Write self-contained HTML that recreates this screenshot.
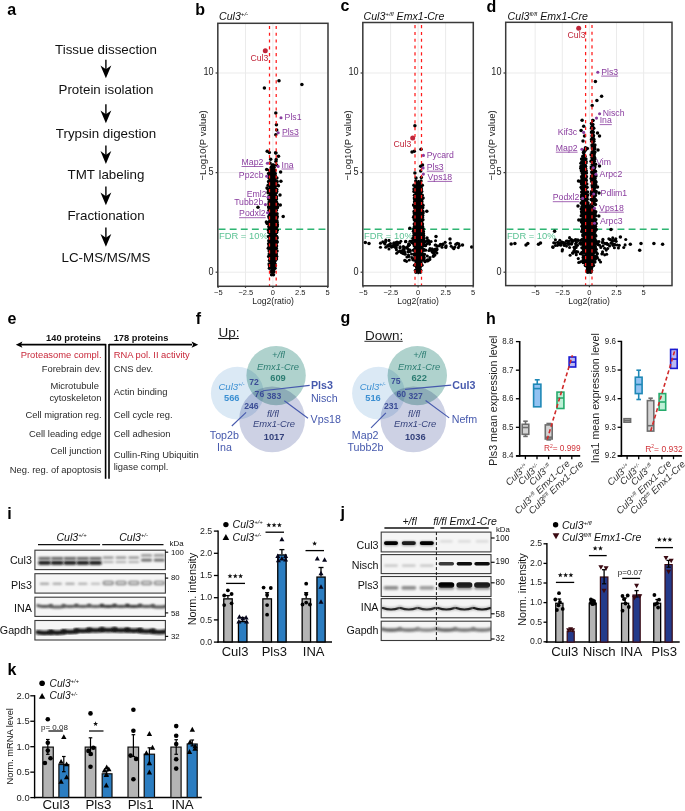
<!DOCTYPE html>
<html><head><meta charset="utf-8"><style>
html,body{margin:0;padding:0;background:#fff;}
svg{display:block;}
text{font-family:"Liberation Sans", sans-serif;}
</style></head><body>
<svg width="685" height="811" viewBox="0 0 685 811">
<rect width="685" height="811" fill="#fff"/>
<text x="7.20" y="14.60" font-size="16" font-weight="bold">a</text>
<text x="106.00" y="53.60" font-size="13.35" text-anchor="middle" fill="#111">Tissue dissection</text>
<text x="106.00" y="94.20" font-size="13.35" text-anchor="middle" fill="#111">Protein isolation</text>
<text x="106.00" y="137.90" font-size="13.35" text-anchor="middle" fill="#111">Trypsin digestion</text>
<text x="106.00" y="178.80" font-size="13.35" text-anchor="middle" fill="#111">TMT labeling</text>
<text x="106.00" y="220.00" font-size="13.35" text-anchor="middle" fill="#111">Fractionation</text>
<text x="106.00" y="261.50" font-size="13.35" text-anchor="middle" fill="#111">LC-MS/MS/MS</text>
<line x1="105.90" y1="59.80" x2="105.90" y2="70.30" stroke="#000" stroke-width="1.4" />
<polygon points="100.50,65.50 105.90,69.30 111.30,65.50 105.90,78.30" fill="#000" />
<line x1="105.90" y1="104.30" x2="105.90" y2="115.30" stroke="#000" stroke-width="1.4" />
<polygon points="100.50,110.50 105.90,114.30 111.30,110.50 105.90,123.30" fill="#000" />
<line x1="105.90" y1="145.40" x2="105.90" y2="155.90" stroke="#000" stroke-width="1.4" />
<polygon points="100.50,151.10 105.90,154.90 111.30,151.10 105.90,163.90" fill="#000" />
<line x1="105.90" y1="186.50" x2="105.90" y2="197.30" stroke="#000" stroke-width="1.4" />
<polygon points="100.50,192.50 105.90,196.30 111.30,192.50 105.90,205.30" fill="#000" />
<line x1="105.90" y1="227.40" x2="105.90" y2="238.80" stroke="#000" stroke-width="1.4" />
<polygon points="100.50,234.00 105.90,237.80 111.30,234.00 105.90,246.80" fill="#000" />
<rect x="217.80" y="23.30" width="110.20" height="263.00" fill="#fff" stroke="none" stroke-width="1" />
<line x1="218.10" y1="23.30" x2="218.10" y2="286.30" stroke="#ebebeb" stroke-width="1" />
<line x1="245.50" y1="23.30" x2="245.50" y2="286.30" stroke="#ebebeb" stroke-width="1" />
<line x1="272.90" y1="23.30" x2="272.90" y2="286.30" stroke="#ebebeb" stroke-width="1" />
<line x1="300.30" y1="23.30" x2="300.30" y2="286.30" stroke="#ebebeb" stroke-width="1" />
<line x1="327.70" y1="23.30" x2="327.70" y2="286.30" stroke="#ebebeb" stroke-width="1" />
<line x1="217.80" y1="272.20" x2="328.00" y2="272.20" stroke="#ebebeb" stroke-width="1" />
<line x1="217.80" y1="172.60" x2="328.00" y2="172.60" stroke="#ebebeb" stroke-width="1" />
<line x1="217.80" y1="73.00" x2="328.00" y2="73.00" stroke="#ebebeb" stroke-width="1" />
<line x1="218.60" y1="229.20" x2="328.00" y2="229.20" stroke="#2fb573" stroke-width="1.4" stroke-dasharray="6.9 4.2"/>
<text x="219.00" y="239.40" font-size="9.4" fill="#5cc294">FDR = 10%</text>
<polygon points="273.10,164.00 269.30,170.00 268.60,180.00 268.60,195.00 268.90,210.00 269.10,230.00 268.90,250.00 269.50,262.00 270.00,268.00 270.80,271.50 272.10,273.50 273.30,275.00 272.10,275.00 273.30,273.50 274.90,271.50 275.70,268.00 276.00,262.00 276.50,250.00 277.00,230.00 277.10,210.00 276.90,195.00 276.50,180.00 275.70,170.00 272.90,164.00" fill="#000" />
<circle cx="272.11" cy="164.97" r="1.75" fill="#000" />
<circle cx="273.43" cy="164.97" r="1.75" fill="#000" />
<circle cx="271.27" cy="167.22" r="1.75" fill="#000" />
<circle cx="274.05" cy="167.22" r="1.75" fill="#000" />
<circle cx="269.45" cy="170.14" r="1.75" fill="#000" />
<circle cx="274.87" cy="170.14" r="1.75" fill="#000" />
<circle cx="268.55" cy="173.58" r="1.75" fill="#000" />
<circle cx="275.22" cy="173.58" r="1.75" fill="#000" />
<circle cx="269.52" cy="176.06" r="1.75" fill="#000" />
<circle cx="275.47" cy="176.06" r="1.75" fill="#000" />
<circle cx="269.08" cy="178.06" r="1.75" fill="#000" />
<circle cx="276.87" cy="178.06" r="1.75" fill="#000" />
<circle cx="268.60" cy="181.44" r="1.75" fill="#000" />
<circle cx="277.10" cy="181.44" r="1.75" fill="#000" />
<circle cx="269.29" cy="182.62" r="1.75" fill="#000" />
<circle cx="276.10" cy="182.62" r="1.75" fill="#000" />
<circle cx="268.18" cy="185.36" r="1.75" fill="#000" />
<circle cx="276.21" cy="185.36" r="1.75" fill="#000" />
<circle cx="268.27" cy="189.54" r="1.75" fill="#000" />
<circle cx="276.73" cy="189.54" r="1.75" fill="#000" />
<circle cx="268.56" cy="191.60" r="1.75" fill="#000" />
<circle cx="276.73" cy="191.60" r="1.75" fill="#000" />
<circle cx="268.09" cy="192.66" r="1.75" fill="#000" />
<circle cx="276.25" cy="192.66" r="1.75" fill="#000" />
<circle cx="268.68" cy="196.70" r="1.75" fill="#000" />
<circle cx="276.49" cy="196.70" r="1.75" fill="#000" />
<circle cx="268.76" cy="198.96" r="1.75" fill="#000" />
<circle cx="276.50" cy="198.96" r="1.75" fill="#000" />
<circle cx="269.19" cy="201.99" r="1.75" fill="#000" />
<circle cx="276.46" cy="201.99" r="1.75" fill="#000" />
<circle cx="268.97" cy="203.94" r="1.75" fill="#000" />
<circle cx="277.43" cy="203.94" r="1.75" fill="#000" />
<circle cx="268.67" cy="206.82" r="1.75" fill="#000" />
<circle cx="277.63" cy="206.82" r="1.75" fill="#000" />
<circle cx="268.88" cy="207.80" r="1.75" fill="#000" />
<circle cx="277.31" cy="207.80" r="1.75" fill="#000" />
<circle cx="269.04" cy="210.34" r="1.75" fill="#000" />
<circle cx="276.26" cy="210.34" r="1.75" fill="#000" />
<circle cx="269.48" cy="213.71" r="1.75" fill="#000" />
<circle cx="277.04" cy="213.71" r="1.75" fill="#000" />
<circle cx="268.83" cy="216.39" r="1.75" fill="#000" />
<circle cx="277.21" cy="216.39" r="1.75" fill="#000" />
<circle cx="269.25" cy="217.99" r="1.75" fill="#000" />
<circle cx="276.84" cy="217.99" r="1.75" fill="#000" />
<circle cx="269.82" cy="220.76" r="1.75" fill="#000" />
<circle cx="276.86" cy="220.76" r="1.75" fill="#000" />
<circle cx="268.52" cy="222.59" r="1.75" fill="#000" />
<circle cx="277.19" cy="222.59" r="1.75" fill="#000" />
<circle cx="269.94" cy="224.77" r="1.75" fill="#000" />
<circle cx="277.36" cy="224.77" r="1.75" fill="#000" />
<circle cx="269.04" cy="226.19" r="1.75" fill="#000" />
<circle cx="277.12" cy="226.19" r="1.75" fill="#000" />
<circle cx="269.17" cy="227.83" r="1.75" fill="#000" />
<circle cx="276.36" cy="227.83" r="1.75" fill="#000" />
<circle cx="268.59" cy="230.26" r="1.75" fill="#000" />
<circle cx="277.25" cy="230.26" r="1.75" fill="#000" />
<circle cx="268.85" cy="232.51" r="1.75" fill="#000" />
<circle cx="276.62" cy="232.51" r="1.75" fill="#000" />
<circle cx="268.56" cy="236.38" r="1.75" fill="#000" />
<circle cx="276.61" cy="236.38" r="1.75" fill="#000" />
<circle cx="269.75" cy="237.89" r="1.75" fill="#000" />
<circle cx="277.13" cy="237.89" r="1.75" fill="#000" />
<circle cx="268.81" cy="240.81" r="1.75" fill="#000" />
<circle cx="276.45" cy="240.81" r="1.75" fill="#000" />
<circle cx="269.71" cy="241.91" r="1.75" fill="#000" />
<circle cx="277.24" cy="241.91" r="1.75" fill="#000" />
<circle cx="268.63" cy="243.67" r="1.75" fill="#000" />
<circle cx="276.11" cy="243.67" r="1.75" fill="#000" />
<circle cx="269.07" cy="246.07" r="1.75" fill="#000" />
<circle cx="276.58" cy="246.07" r="1.75" fill="#000" />
<circle cx="268.32" cy="248.36" r="1.75" fill="#000" />
<circle cx="276.27" cy="248.36" r="1.75" fill="#000" />
<circle cx="269.19" cy="250.89" r="1.75" fill="#000" />
<circle cx="276.99" cy="250.89" r="1.75" fill="#000" />
<circle cx="269.28" cy="254.06" r="1.75" fill="#000" />
<circle cx="276.36" cy="254.06" r="1.75" fill="#000" />
<circle cx="268.70" cy="256.42" r="1.75" fill="#000" />
<circle cx="276.68" cy="256.42" r="1.75" fill="#000" />
<circle cx="270.07" cy="259.07" r="1.75" fill="#000" />
<circle cx="276.42" cy="259.07" r="1.75" fill="#000" />
<circle cx="269.43" cy="260.54" r="1.75" fill="#000" />
<circle cx="275.32" cy="260.54" r="1.75" fill="#000" />
<circle cx="269.15" cy="263.90" r="1.75" fill="#000" />
<circle cx="275.11" cy="263.90" r="1.75" fill="#000" />
<circle cx="269.45" cy="265.63" r="1.75" fill="#000" />
<circle cx="275.43" cy="265.63" r="1.75" fill="#000" />
<circle cx="269.44" cy="268.18" r="1.75" fill="#000" />
<circle cx="274.98" cy="268.18" r="1.75" fill="#000" />
<circle cx="270.88" cy="271.70" r="1.75" fill="#000" />
<circle cx="273.88" cy="271.70" r="1.75" fill="#000" />
<circle cx="273.47" cy="274.81" r="1.75" fill="#000" />
<circle cx="271.57" cy="274.81" r="1.75" fill="#000" />
<circle cx="279.00" cy="80.70" r="1.75" fill="#000" />
<circle cx="264.40" cy="88.10" r="1.75" fill="#000" />
<circle cx="301.90" cy="84.40" r="1.75" fill="#000" />
<circle cx="275.80" cy="113.00" r="1.75" fill="#000" />
<circle cx="276.40" cy="124.80" r="1.75" fill="#000" />
<circle cx="276.70" cy="130.00" r="1.75" fill="#000" />
<circle cx="275.80" cy="134.70" r="1.75" fill="#000" />
<circle cx="267.20" cy="151.20" r="1.75" fill="#000" />
<circle cx="269.30" cy="152.60" r="1.75" fill="#000" />
<circle cx="275.90" cy="152.90" r="1.75" fill="#000" />
<circle cx="278.50" cy="156.30" r="1.75" fill="#000" />
<circle cx="270.70" cy="159.20" r="1.75" fill="#000" />
<circle cx="275.90" cy="161.60" r="1.75" fill="#000" />
<circle cx="280.60" cy="172.10" r="1.75" fill="#000" />
<circle cx="280.90" cy="181.30" r="1.75" fill="#000" />
<circle cx="278.40" cy="185.70" r="1.75" fill="#000" />
<circle cx="258.00" cy="207.20" r="1.75" fill="#000" />
<circle cx="283.20" cy="216.60" r="1.75" fill="#000" />
<circle cx="266.40" cy="222.00" r="1.75" fill="#000" />
<circle cx="267.20" cy="223.60" r="1.75" fill="#000" />
<circle cx="266.70" cy="169.50" r="1.75" fill="#000" />
<circle cx="275.60" cy="152.80" r="1.75" fill="#000" />
<circle cx="276.20" cy="159.60" r="1.75" fill="#000" />
<circle cx="270.00" cy="163.00" r="1.75" fill="#000" />
<circle cx="276.50" cy="165.00" r="1.75" fill="#000" />
<circle cx="267.00" cy="188.00" r="1.75" fill="#000" />
<circle cx="277.50" cy="184.90" r="1.75" fill="#000" />
<circle cx="280.00" cy="195.00" r="1.75" fill="#000" />
<circle cx="280.30" cy="205.00" r="1.75" fill="#000" />
<line x1="269.50" y1="25.90" x2="269.50" y2="286.30" stroke="#ff1a1a" stroke-width="1.25" stroke-dasharray="3.1 3.7"/>
<line x1="276.20" y1="25.90" x2="276.20" y2="286.30" stroke="#ff1a1a" stroke-width="1.25" stroke-dasharray="3.1 3.7"/>
<circle cx="265.30" cy="50.70" r="2.50" fill="#c0263a" />
<circle cx="281.00" cy="117.70" r="1.55" fill="#8a3d9f" />
<circle cx="278.20" cy="132.70" r="1.55" fill="#8a3d9f" />
<circle cx="267.40" cy="163.30" r="1.55" fill="#8a3d9f" />
<circle cx="278.10" cy="166.40" r="1.55" fill="#8a3d9f" />
<circle cx="266.70" cy="176.20" r="1.55" fill="#8a3d9f" />
<circle cx="268.20" cy="197.20" r="1.55" fill="#8a3d9f" />
<circle cx="265.40" cy="204.60" r="1.55" fill="#8a3d9f" />
<circle cx="267.60" cy="212.80" r="1.55" fill="#8a3d9f" />
<text x="250.50" y="61.20" font-size="8.7" fill="#c0263a">Cul3</text>
<text x="284.60" y="119.50" font-size="8.7" fill="#8a3d9f">Pls1</text>
<text x="281.90" y="134.70" font-size="8.7" fill="#8a3d9f">Pls3</text>
<line x1="281.90" y1="136.10" x2="298.82" y2="136.10" stroke="#8a3d9f" stroke-width="0.8" />
<text x="263.30" y="165.10" font-size="8.7" text-anchor="end" fill="#8a3d9f">Map2</text>
<line x1="241.54" y1="166.50" x2="263.30" y2="166.50" stroke="#8a3d9f" stroke-width="0.8" />
<text x="281.50" y="167.60" font-size="8.7" fill="#8a3d9f">Ina</text>
<line x1="281.50" y1="169.00" x2="293.59" y2="169.00" stroke="#8a3d9f" stroke-width="0.8" />
<text x="263.50" y="177.50" font-size="8.7" text-anchor="end" fill="#8a3d9f">Pp2cb</text>
<text x="266.60" y="196.60" font-size="8.7" text-anchor="end" fill="#8a3d9f">Eml2</text>
<text x="263.30" y="204.80" font-size="8.7" text-anchor="end" fill="#8a3d9f">Tubb2b</text>
<text x="265.70" y="216.30" font-size="8.7" text-anchor="end" fill="#8a3d9f">Podxl2</text>
<line x1="239.10" y1="217.70" x2="265.70" y2="217.70" stroke="#8a3d9f" stroke-width="0.8" />
<rect x="217.80" y="23.30" width="110.20" height="263.00" fill="none" stroke="#3a3a3a" stroke-width="1.5" />
<line x1="215.60" y1="272.20" x2="217.80" y2="272.20" stroke="#3a3a3a" stroke-width="1.2" />
<text x="213.60" y="274.50" font-size="10.4" text-anchor="end" fill="#222" textLength="5.07" lengthAdjust="spacingAndGlyphs">0</text>
<line x1="215.60" y1="172.60" x2="217.80" y2="172.60" stroke="#3a3a3a" stroke-width="1.2" />
<text x="213.60" y="174.90" font-size="10.4" text-anchor="end" fill="#222" textLength="5.07" lengthAdjust="spacingAndGlyphs">5</text>
<line x1="215.60" y1="73.00" x2="217.80" y2="73.00" stroke="#3a3a3a" stroke-width="1.2" />
<text x="213.60" y="75.30" font-size="10.4" text-anchor="end" fill="#222" textLength="10.13" lengthAdjust="spacingAndGlyphs">10</text>
<line x1="218.10" y1="286.30" x2="218.10" y2="287.90" stroke="#3a3a3a" stroke-width="1.2" />
<text x="218.40" y="295.40" font-size="7.5" text-anchor="middle" fill="#222">−5</text>
<line x1="245.50" y1="286.30" x2="245.50" y2="287.90" stroke="#3a3a3a" stroke-width="1.2" />
<text x="245.80" y="295.40" font-size="7.5" text-anchor="middle" fill="#222">−2.5</text>
<line x1="272.90" y1="286.30" x2="272.90" y2="287.90" stroke="#3a3a3a" stroke-width="1.2" />
<text x="272.90" y="295.40" font-size="7.5" text-anchor="middle" fill="#222">0</text>
<line x1="300.30" y1="286.30" x2="300.30" y2="287.90" stroke="#3a3a3a" stroke-width="1.2" />
<text x="300.30" y="295.40" font-size="7.5" text-anchor="middle" fill="#222">2.5</text>
<line x1="327.70" y1="286.30" x2="327.70" y2="287.90" stroke="#3a3a3a" stroke-width="1.2" />
<text x="327.70" y="295.40" font-size="7.5" text-anchor="middle" fill="#222">5</text>
<text x="273.00" y="304.40" font-size="8.6" text-anchor="middle" fill="#222">Log2(ratio)</text>
<text x="0.00" y="0.00" font-size="9.55" text-anchor="middle" fill="#222" transform="translate(206.30,145.4) rotate(-90)">−Log10(P value)</text>
<text x="219.00" y="19.70" font-size="10.6" font-style="italic" fill="#111"><tspan>Cul3</tspan><tspan font-size="6.15" dy="-4.03">+/-</tspan><tspan dy="4.03">​</tspan></text>
<rect x="362.80" y="22.50" width="110.50" height="263.30" fill="#fff" stroke="none" stroke-width="1" />
<line x1="363.10" y1="22.50" x2="363.10" y2="285.80" stroke="#ebebeb" stroke-width="1" />
<line x1="390.60" y1="22.50" x2="390.60" y2="285.80" stroke="#ebebeb" stroke-width="1" />
<line x1="418.10" y1="22.50" x2="418.10" y2="285.80" stroke="#ebebeb" stroke-width="1" />
<line x1="445.60" y1="22.50" x2="445.60" y2="285.80" stroke="#ebebeb" stroke-width="1" />
<line x1="473.10" y1="22.50" x2="473.10" y2="285.80" stroke="#ebebeb" stroke-width="1" />
<line x1="362.80" y1="272.20" x2="473.30" y2="272.20" stroke="#ebebeb" stroke-width="1" />
<line x1="362.80" y1="172.60" x2="473.30" y2="172.60" stroke="#ebebeb" stroke-width="1" />
<line x1="362.80" y1="73.00" x2="473.30" y2="73.00" stroke="#ebebeb" stroke-width="1" />
<line x1="363.60" y1="229.20" x2="473.30" y2="229.20" stroke="#2fb573" stroke-width="1.4" stroke-dasharray="6.9 4.2"/>
<text x="364.00" y="239.40" font-size="9.4" fill="#5cc294">FDR = 10%</text>
<polygon points="417.80,180.00 414.60,188.00 414.10,198.00 413.90,210.00 413.70,229.00 413.60,240.00 413.90,252.00 414.50,262.00 415.10,268.00 416.30,272.00 417.80,274.20 418.70,274.20 420.30,272.00 421.70,268.00 422.70,262.00 423.30,252.00 423.70,240.00 423.30,229.00 423.10,210.00 422.50,198.00 422.00,188.00 419.20,180.00" fill="#000" />
<circle cx="417.10" cy="182.67" r="1.75" fill="#000" />
<circle cx="420.29" cy="182.67" r="1.75" fill="#000" />
<circle cx="416.79" cy="184.70" r="1.75" fill="#000" />
<circle cx="419.98" cy="184.70" r="1.75" fill="#000" />
<circle cx="415.52" cy="186.97" r="1.75" fill="#000" />
<circle cx="421.13" cy="186.97" r="1.75" fill="#000" />
<circle cx="414.03" cy="189.00" r="1.75" fill="#000" />
<circle cx="421.44" cy="189.00" r="1.75" fill="#000" />
<circle cx="413.98" cy="191.44" r="1.75" fill="#000" />
<circle cx="421.65" cy="191.44" r="1.75" fill="#000" />
<circle cx="414.46" cy="195.26" r="1.75" fill="#000" />
<circle cx="422.22" cy="195.26" r="1.75" fill="#000" />
<circle cx="414.36" cy="197.92" r="1.75" fill="#000" />
<circle cx="423.09" cy="197.92" r="1.75" fill="#000" />
<circle cx="414.69" cy="199.53" r="1.75" fill="#000" />
<circle cx="421.79" cy="199.53" r="1.75" fill="#000" />
<circle cx="414.57" cy="201.83" r="1.75" fill="#000" />
<circle cx="421.86" cy="201.83" r="1.75" fill="#000" />
<circle cx="413.62" cy="205.03" r="1.75" fill="#000" />
<circle cx="422.66" cy="205.03" r="1.75" fill="#000" />
<circle cx="414.12" cy="205.61" r="1.75" fill="#000" />
<circle cx="422.90" cy="205.61" r="1.75" fill="#000" />
<circle cx="414.76" cy="207.74" r="1.75" fill="#000" />
<circle cx="422.72" cy="207.74" r="1.75" fill="#000" />
<circle cx="414.18" cy="211.25" r="1.75" fill="#000" />
<circle cx="422.76" cy="211.25" r="1.75" fill="#000" />
<circle cx="414.25" cy="213.05" r="1.75" fill="#000" />
<circle cx="423.07" cy="213.05" r="1.75" fill="#000" />
<circle cx="414.32" cy="215.42" r="1.75" fill="#000" />
<circle cx="422.70" cy="215.42" r="1.75" fill="#000" />
<circle cx="413.59" cy="217.16" r="1.75" fill="#000" />
<circle cx="422.34" cy="217.16" r="1.75" fill="#000" />
<circle cx="414.33" cy="219.87" r="1.75" fill="#000" />
<circle cx="422.89" cy="219.87" r="1.75" fill="#000" />
<circle cx="414.28" cy="224.01" r="1.75" fill="#000" />
<circle cx="422.42" cy="224.01" r="1.75" fill="#000" />
<circle cx="414.54" cy="226.60" r="1.75" fill="#000" />
<circle cx="422.48" cy="226.60" r="1.75" fill="#000" />
<circle cx="413.75" cy="228.78" r="1.75" fill="#000" />
<circle cx="423.11" cy="228.78" r="1.75" fill="#000" />
<circle cx="413.45" cy="231.14" r="1.75" fill="#000" />
<circle cx="423.26" cy="231.14" r="1.75" fill="#000" />
<circle cx="414.15" cy="233.26" r="1.75" fill="#000" />
<circle cx="423.26" cy="233.26" r="1.75" fill="#000" />
<circle cx="414.27" cy="235.55" r="1.75" fill="#000" />
<circle cx="423.54" cy="235.55" r="1.75" fill="#000" />
<circle cx="413.97" cy="235.85" r="1.75" fill="#000" />
<circle cx="423.33" cy="235.85" r="1.75" fill="#000" />
<circle cx="413.09" cy="238.25" r="1.75" fill="#000" />
<circle cx="423.53" cy="238.25" r="1.75" fill="#000" />
<circle cx="413.67" cy="240.30" r="1.75" fill="#000" />
<circle cx="423.79" cy="240.30" r="1.75" fill="#000" />
<circle cx="413.48" cy="243.49" r="1.75" fill="#000" />
<circle cx="423.56" cy="243.49" r="1.75" fill="#000" />
<circle cx="414.31" cy="245.81" r="1.75" fill="#000" />
<circle cx="423.40" cy="245.81" r="1.75" fill="#000" />
<circle cx="414.67" cy="249.59" r="1.75" fill="#000" />
<circle cx="423.58" cy="249.59" r="1.75" fill="#000" />
<circle cx="413.43" cy="250.17" r="1.75" fill="#000" />
<circle cx="423.80" cy="250.17" r="1.75" fill="#000" />
<circle cx="414.36" cy="253.96" r="1.75" fill="#000" />
<circle cx="422.82" cy="253.96" r="1.75" fill="#000" />
<circle cx="414.52" cy="255.18" r="1.75" fill="#000" />
<circle cx="423.06" cy="255.18" r="1.75" fill="#000" />
<circle cx="414.64" cy="258.48" r="1.75" fill="#000" />
<circle cx="423.14" cy="258.48" r="1.75" fill="#000" />
<circle cx="414.15" cy="259.97" r="1.75" fill="#000" />
<circle cx="423.39" cy="259.97" r="1.75" fill="#000" />
<circle cx="415.49" cy="264.75" r="1.75" fill="#000" />
<circle cx="421.40" cy="264.75" r="1.75" fill="#000" />
<circle cx="414.62" cy="265.18" r="1.75" fill="#000" />
<circle cx="421.91" cy="265.18" r="1.75" fill="#000" />
<circle cx="415.40" cy="270.49" r="1.75" fill="#000" />
<circle cx="420.74" cy="270.49" r="1.75" fill="#000" />
<circle cx="415.94" cy="272.16" r="1.75" fill="#000" />
<circle cx="420.30" cy="272.16" r="1.75" fill="#000" />
<circle cx="414.90" cy="125.70" r="1.75" fill="#000" />
<circle cx="412.00" cy="152.00" r="1.75" fill="#000" />
<circle cx="414.30" cy="151.20" r="1.75" fill="#000" />
<circle cx="421.00" cy="149.20" r="1.75" fill="#000" />
<circle cx="422.50" cy="165.00" r="1.75" fill="#000" />
<circle cx="420.70" cy="166.30" r="1.75" fill="#000" />
<circle cx="414.90" cy="173.10" r="1.75" fill="#000" />
<circle cx="420.70" cy="171.00" r="1.75" fill="#000" />
<circle cx="421.30" cy="177.40" r="1.75" fill="#000" />
<circle cx="415.80" cy="180.90" r="1.75" fill="#000" />
<circle cx="413.90" cy="185.20" r="1.75" fill="#000" />
<circle cx="422.30" cy="185.20" r="1.75" fill="#000" />
<circle cx="416.00" cy="178.00" r="1.75" fill="#000" />
<circle cx="421.00" cy="181.00" r="1.75" fill="#000" />
<circle cx="426.80" cy="211.30" r="1.75" fill="#000" />
<circle cx="409.80" cy="228.30" r="1.75" fill="#000" />
<circle cx="365.30" cy="242.50" r="1.75" fill="#000" />
<circle cx="369.00" cy="243.50" r="1.75" fill="#000" />
<circle cx="471.70" cy="247.00" r="1.75" fill="#000" />
<circle cx="462.50" cy="245.00" r="1.75" fill="#000" />
<circle cx="456.00" cy="244.20" r="1.75" fill="#000" />
<circle cx="404.90" cy="260.50" r="1.75" fill="#000" />
<circle cx="433.40" cy="256.30" r="1.75" fill="#000" />
<circle cx="450.00" cy="239.00" r="1.75" fill="#000" />
<circle cx="436.00" cy="236.50" r="1.75" fill="#000" />
<circle cx="427.00" cy="238.00" r="1.75" fill="#000" />
<circle cx="396.00" cy="247.59" r="1.55" fill="#000" />
<circle cx="394.65" cy="244.12" r="1.55" fill="#000" />
<circle cx="398.16" cy="242.50" r="1.55" fill="#000" />
<circle cx="405.59" cy="241.66" r="1.55" fill="#000" />
<circle cx="445.16" cy="242.33" r="1.55" fill="#000" />
<circle cx="442.89" cy="244.29" r="1.55" fill="#000" />
<circle cx="397.44" cy="244.41" r="1.55" fill="#000" />
<circle cx="408.74" cy="245.55" r="1.55" fill="#000" />
<circle cx="400.12" cy="246.92" r="1.55" fill="#000" />
<circle cx="436.74" cy="249.92" r="1.55" fill="#000" />
<circle cx="390.45" cy="243.51" r="1.55" fill="#000" />
<circle cx="446.06" cy="245.79" r="1.55" fill="#000" />
<circle cx="407.70" cy="246.57" r="1.55" fill="#000" />
<circle cx="382.77" cy="241.69" r="1.55" fill="#000" />
<circle cx="423.06" cy="244.85" r="1.55" fill="#000" />
<circle cx="434.92" cy="255.02" r="1.55" fill="#000" />
<circle cx="411.56" cy="253.96" r="1.55" fill="#000" />
<circle cx="428.93" cy="242.19" r="1.55" fill="#000" />
<circle cx="425.40" cy="245.65" r="1.55" fill="#000" />
<circle cx="411.86" cy="257.60" r="1.55" fill="#000" />
<circle cx="396.02" cy="247.91" r="1.55" fill="#000" />
<circle cx="408.73" cy="256.18" r="1.55" fill="#000" />
<circle cx="391.58" cy="247.09" r="1.55" fill="#000" />
<circle cx="406.58" cy="261.37" r="1.55" fill="#000" />
<circle cx="429.83" cy="259.50" r="1.55" fill="#000" />
<circle cx="402.67" cy="253.13" r="1.55" fill="#000" />
<circle cx="425.03" cy="261.77" r="1.55" fill="#000" />
<circle cx="406.91" cy="257.07" r="1.55" fill="#000" />
<circle cx="405.80" cy="241.40" r="1.55" fill="#000" />
<circle cx="394.88" cy="246.91" r="1.55" fill="#000" />
<circle cx="393.93" cy="243.55" r="1.55" fill="#000" />
<circle cx="435.41" cy="248.93" r="1.55" fill="#000" />
<circle cx="426.83" cy="243.64" r="1.55" fill="#000" />
<circle cx="454.89" cy="247.12" r="1.55" fill="#000" />
<circle cx="408.75" cy="256.35" r="1.55" fill="#000" />
<circle cx="427.14" cy="260.92" r="1.55" fill="#000" />
<circle cx="440.35" cy="244.35" r="1.55" fill="#000" />
<circle cx="387.67" cy="245.81" r="1.55" fill="#000" />
<circle cx="429.55" cy="244.11" r="1.55" fill="#000" />
<circle cx="424.38" cy="245.26" r="1.55" fill="#000" />
<circle cx="458.83" cy="243.90" r="1.55" fill="#000" />
<circle cx="427.32" cy="240.66" r="1.55" fill="#000" />
<circle cx="400.82" cy="241.21" r="1.55" fill="#000" />
<circle cx="403.53" cy="248.89" r="1.55" fill="#000" />
<circle cx="403.75" cy="253.68" r="1.55" fill="#000" />
<circle cx="443.06" cy="244.07" r="1.55" fill="#000" />
<circle cx="439.47" cy="245.69" r="1.55" fill="#000" />
<circle cx="392.02" cy="245.77" r="1.55" fill="#000" />
<circle cx="385.75" cy="241.60" r="1.55" fill="#000" />
<circle cx="396.64" cy="253.30" r="1.55" fill="#000" />
<circle cx="445.80" cy="246.67" r="1.55" fill="#000" />
<circle cx="389.00" cy="240.38" r="1.55" fill="#000" />
<circle cx="380.48" cy="247.26" r="1.55" fill="#000" />
<circle cx="432.06" cy="249.05" r="1.55" fill="#000" />
<circle cx="424.61" cy="254.18" r="1.55" fill="#000" />
<circle cx="432.25" cy="251.34" r="1.55" fill="#000" />
<circle cx="433.91" cy="252.89" r="1.55" fill="#000" />
<circle cx="384.16" cy="243.03" r="1.55" fill="#000" />
<circle cx="393.93" cy="243.65" r="1.55" fill="#000" />
<circle cx="435.91" cy="249.53" r="1.55" fill="#000" />
<circle cx="428.58" cy="240.55" r="1.55" fill="#000" />
<circle cx="389.46" cy="245.50" r="1.55" fill="#000" />
<circle cx="409.27" cy="259.95" r="1.55" fill="#000" />
<circle cx="433.96" cy="253.69" r="1.55" fill="#000" />
<circle cx="390.24" cy="246.08" r="1.55" fill="#000" />
<circle cx="432.12" cy="249.06" r="1.55" fill="#000" />
<circle cx="410.09" cy="251.07" r="1.55" fill="#000" />
<circle cx="458.37" cy="247.62" r="1.55" fill="#000" />
<circle cx="409.28" cy="250.08" r="1.55" fill="#000" />
<circle cx="408.12" cy="249.28" r="1.55" fill="#000" />
<circle cx="435.78" cy="245.04" r="1.55" fill="#000" />
<circle cx="411.53" cy="240.98" r="1.55" fill="#000" />
<circle cx="423.84" cy="255.68" r="1.55" fill="#000" />
<circle cx="429.96" cy="257.48" r="1.55" fill="#000" />
<circle cx="410.10" cy="250.17" r="1.55" fill="#000" />
<circle cx="409.98" cy="241.32" r="1.55" fill="#000" />
<circle cx="434.11" cy="249.76" r="1.55" fill="#000" />
<circle cx="453.85" cy="248.68" r="1.55" fill="#000" />
<circle cx="399.68" cy="242.98" r="1.55" fill="#000" />
<circle cx="399.79" cy="251.03" r="1.55" fill="#000" />
<circle cx="406.51" cy="247.80" r="1.55" fill="#000" />
<circle cx="436.79" cy="249.53" r="1.55" fill="#000" />
<circle cx="432.40" cy="252.19" r="1.55" fill="#000" />
<circle cx="424.76" cy="260.54" r="1.55" fill="#000" />
<circle cx="425.65" cy="250.14" r="1.55" fill="#000" />
<circle cx="395.57" cy="244.40" r="1.55" fill="#000" />
<circle cx="452.85" cy="247.71" r="1.55" fill="#000" />
<circle cx="427.34" cy="255.97" r="1.55" fill="#000" />
<circle cx="442.24" cy="244.42" r="1.55" fill="#000" />
<circle cx="427.54" cy="259.83" r="1.55" fill="#000" />
<circle cx="380.45" cy="243.14" r="1.55" fill="#000" />
<circle cx="431.06" cy="241.54" r="1.55" fill="#000" />
<circle cx="396.45" cy="249.86" r="1.55" fill="#000" />
<circle cx="435.55" cy="240.73" r="1.55" fill="#000" />
<circle cx="424.29" cy="257.66" r="1.55" fill="#000" />
<circle cx="404.62" cy="252.13" r="1.55" fill="#000" />
<circle cx="409.79" cy="251.51" r="1.55" fill="#000" />
<circle cx="457.32" cy="243.24" r="1.55" fill="#000" />
<circle cx="407.92" cy="251.73" r="1.55" fill="#000" />
<circle cx="385.87" cy="240.15" r="1.55" fill="#000" />
<circle cx="436.88" cy="252.97" r="1.55" fill="#000" />
<circle cx="430.03" cy="248.57" r="1.55" fill="#000" />
<circle cx="436.94" cy="248.91" r="1.55" fill="#000" />
<circle cx="397.11" cy="242.16" r="1.55" fill="#000" />
<circle cx="402.45" cy="252.33" r="1.55" fill="#000" />
<circle cx="435.68" cy="250.68" r="1.55" fill="#000" />
<circle cx="396.98" cy="245.24" r="1.55" fill="#000" />
<circle cx="428.91" cy="250.57" r="1.55" fill="#000" />
<circle cx="401.27" cy="252.55" r="1.55" fill="#000" />
<circle cx="435.15" cy="245.06" r="1.55" fill="#000" />
<circle cx="393.04" cy="246.38" r="1.55" fill="#000" />
<circle cx="423.48" cy="244.51" r="1.55" fill="#000" />
<circle cx="388.87" cy="244.75" r="1.55" fill="#000" />
<circle cx="403.97" cy="249.61" r="1.55" fill="#000" />
<circle cx="385.72" cy="247.27" r="1.55" fill="#000" />
<circle cx="408.55" cy="251.81" r="1.55" fill="#000" />
<circle cx="403.30" cy="246.51" r="1.55" fill="#000" />
<circle cx="409.51" cy="244.73" r="1.55" fill="#000" />
<circle cx="442.08" cy="247.22" r="1.55" fill="#000" />
<circle cx="459.39" cy="245.71" r="1.55" fill="#000" />
<circle cx="405.24" cy="254.16" r="1.55" fill="#000" />
<circle cx="425.74" cy="245.49" r="1.55" fill="#000" />
<circle cx="428.67" cy="242.41" r="1.55" fill="#000" />
<circle cx="433.29" cy="252.16" r="1.55" fill="#000" />
<circle cx="402.38" cy="250.59" r="1.55" fill="#000" />
<circle cx="408.46" cy="255.11" r="1.55" fill="#000" />
<circle cx="398.42" cy="251.69" r="1.55" fill="#000" />
<circle cx="388.96" cy="249.06" r="1.55" fill="#000" />
<circle cx="411.62" cy="242.60" r="1.55" fill="#000" />
<circle cx="396.38" cy="242.33" r="1.55" fill="#000" />
<circle cx="408.89" cy="244.72" r="1.55" fill="#000" />
<circle cx="424.92" cy="241.64" r="1.55" fill="#000" />
<circle cx="434.64" cy="251.79" r="1.55" fill="#000" />
<circle cx="400.00" cy="248.04" r="1.55" fill="#000" />
<circle cx="393.95" cy="245.02" r="1.55" fill="#000" />
<circle cx="387.92" cy="246.11" r="1.55" fill="#000" />
<circle cx="385.05" cy="244.09" r="1.55" fill="#000" />
<circle cx="408.61" cy="243.88" r="1.55" fill="#000" />
<circle cx="412.83" cy="259.68" r="1.55" fill="#000" />
<circle cx="445.86" cy="247.38" r="1.55" fill="#000" />
<circle cx="394.02" cy="242.81" r="1.55" fill="#000" />
<circle cx="428.64" cy="260.08" r="1.55" fill="#000" />
<circle cx="451.19" cy="246.23" r="1.55" fill="#000" />
<circle cx="450.31" cy="243.14" r="1.55" fill="#000" />
<circle cx="432.78" cy="251.15" r="1.55" fill="#000" />
<circle cx="404.41" cy="247.34" r="1.55" fill="#000" />
<circle cx="403.96" cy="249.89" r="1.55" fill="#000" />
<circle cx="427.99" cy="260.80" r="1.55" fill="#000" />
<circle cx="430.76" cy="250.21" r="1.55" fill="#000" />
<circle cx="437.29" cy="246.15" r="1.55" fill="#000" />
<line x1="415.00" y1="25.10" x2="415.00" y2="285.80" stroke="#ff1a1a" stroke-width="1.25" stroke-dasharray="3.1 3.7"/>
<line x1="421.50" y1="25.10" x2="421.50" y2="285.80" stroke="#ff1a1a" stroke-width="1.25" stroke-dasharray="3.1 3.7"/>
<circle cx="412.70" cy="138.00" r="2.50" fill="#c0263a" />
<circle cx="423.40" cy="155.40" r="1.55" fill="#8a3d9f" />
<circle cx="423.10" cy="167.90" r="1.55" fill="#8a3d9f" />
<circle cx="423.40" cy="174.10" r="1.55" fill="#8a3d9f" />
<text x="411.40" y="147.20" font-size="8.7" text-anchor="end" fill="#c0263a">Cul3</text>
<text x="426.80" y="157.50" font-size="8.7" fill="#8a3d9f">Pycard</text>
<text x="426.80" y="169.80" font-size="8.7" fill="#8a3d9f">Pls3</text>
<line x1="426.80" y1="171.20" x2="443.72" y2="171.20" stroke="#8a3d9f" stroke-width="0.8" />
<text x="427.50" y="180.00" font-size="8.7" fill="#8a3d9f">Vps18</text>
<line x1="427.50" y1="181.40" x2="452.17" y2="181.40" stroke="#8a3d9f" stroke-width="0.8" />
<rect x="362.80" y="22.50" width="110.50" height="263.30" fill="none" stroke="#3a3a3a" stroke-width="1.5" />
<line x1="360.60" y1="272.20" x2="362.80" y2="272.20" stroke="#3a3a3a" stroke-width="1.2" />
<text x="358.60" y="274.50" font-size="10.4" text-anchor="end" fill="#222" textLength="5.07" lengthAdjust="spacingAndGlyphs">0</text>
<line x1="360.60" y1="172.60" x2="362.80" y2="172.60" stroke="#3a3a3a" stroke-width="1.2" />
<text x="358.60" y="174.90" font-size="10.4" text-anchor="end" fill="#222" textLength="5.07" lengthAdjust="spacingAndGlyphs">5</text>
<line x1="360.60" y1="73.00" x2="362.80" y2="73.00" stroke="#3a3a3a" stroke-width="1.2" />
<text x="358.60" y="75.30" font-size="10.4" text-anchor="end" fill="#222" textLength="10.13" lengthAdjust="spacingAndGlyphs">10</text>
<line x1="363.10" y1="285.80" x2="363.10" y2="287.40" stroke="#3a3a3a" stroke-width="1.2" />
<text x="363.40" y="295.40" font-size="7.5" text-anchor="middle" fill="#222">−5</text>
<line x1="390.60" y1="285.80" x2="390.60" y2="287.40" stroke="#3a3a3a" stroke-width="1.2" />
<text x="390.90" y="295.40" font-size="7.5" text-anchor="middle" fill="#222">−2.5</text>
<line x1="418.10" y1="285.80" x2="418.10" y2="287.40" stroke="#3a3a3a" stroke-width="1.2" />
<text x="418.10" y="295.40" font-size="7.5" text-anchor="middle" fill="#222">0</text>
<line x1="445.60" y1="285.80" x2="445.60" y2="287.40" stroke="#3a3a3a" stroke-width="1.2" />
<text x="445.60" y="295.40" font-size="7.5" text-anchor="middle" fill="#222">2.5</text>
<line x1="473.10" y1="285.80" x2="473.10" y2="287.40" stroke="#3a3a3a" stroke-width="1.2" />
<text x="473.10" y="295.40" font-size="7.5" text-anchor="middle" fill="#222">5</text>
<text x="418.00" y="304.40" font-size="8.6" text-anchor="middle" fill="#222">Log2(ratio)</text>
<text x="0.00" y="0.00" font-size="9.55" text-anchor="middle" fill="#222" transform="translate(350.90,145.4) rotate(-90)">−Log10(P value)</text>
<text x="363.50" y="19.70" font-size="10.6" font-style="italic" fill="#111"><tspan>Cul3</tspan><tspan font-size="6.15" dy="-4.03">+/fl</tspan><tspan dy="4.03">​</tspan><tspan> Emx1-Cre</tspan></text>
<rect x="505.70" y="22.30" width="166.30" height="263.30" fill="#fff" stroke="none" stroke-width="1" />
<line x1="535.15" y1="22.30" x2="535.15" y2="285.60" stroke="#ebebeb" stroke-width="1" />
<line x1="562.27" y1="22.30" x2="562.27" y2="285.60" stroke="#ebebeb" stroke-width="1" />
<line x1="589.40" y1="22.30" x2="589.40" y2="285.60" stroke="#ebebeb" stroke-width="1" />
<line x1="616.52" y1="22.30" x2="616.52" y2="285.60" stroke="#ebebeb" stroke-width="1" />
<line x1="643.65" y1="22.30" x2="643.65" y2="285.60" stroke="#ebebeb" stroke-width="1" />
<line x1="505.70" y1="272.20" x2="672.00" y2="272.20" stroke="#ebebeb" stroke-width="1" />
<line x1="505.70" y1="172.60" x2="672.00" y2="172.60" stroke="#ebebeb" stroke-width="1" />
<line x1="505.70" y1="73.00" x2="672.00" y2="73.00" stroke="#ebebeb" stroke-width="1" />
<line x1="506.50" y1="229.20" x2="672.00" y2="229.20" stroke="#2fb573" stroke-width="1.4" stroke-dasharray="6.9 4.2"/>
<text x="506.90" y="239.40" font-size="9.4" fill="#5cc294">FDR = 10%</text>
<polygon points="592.60,119.50 591.90,130.00 591.70,150.00 591.60,170.00 591.60,190.00 591.30,205.00 595.70,205.00 595.70,190.00 595.20,170.00 594.70,150.00 593.70,130.00 592.50,119.50" fill="#000" />
<circle cx="592.87" cy="120.49" r="1.75" fill="#000" />
<circle cx="592.80" cy="120.49" r="1.75" fill="#000" />
<circle cx="592.13" cy="124.52" r="1.75" fill="#000" />
<circle cx="592.85" cy="124.52" r="1.75" fill="#000" />
<circle cx="591.84" cy="126.92" r="1.75" fill="#000" />
<circle cx="592.62" cy="126.92" r="1.75" fill="#000" />
<circle cx="591.55" cy="128.19" r="1.75" fill="#000" />
<circle cx="593.75" cy="128.19" r="1.75" fill="#000" />
<circle cx="591.75" cy="131.82" r="1.75" fill="#000" />
<circle cx="593.09" cy="131.82" r="1.75" fill="#000" />
<circle cx="591.64" cy="132.40" r="1.75" fill="#000" />
<circle cx="593.05" cy="132.40" r="1.75" fill="#000" />
<circle cx="592.11" cy="135.40" r="1.75" fill="#000" />
<circle cx="593.44" cy="135.40" r="1.75" fill="#000" />
<circle cx="592.28" cy="136.80" r="1.75" fill="#000" />
<circle cx="593.21" cy="136.80" r="1.75" fill="#000" />
<circle cx="591.64" cy="139.33" r="1.75" fill="#000" />
<circle cx="593.83" cy="139.33" r="1.75" fill="#000" />
<circle cx="591.82" cy="141.33" r="1.75" fill="#000" />
<circle cx="593.84" cy="141.33" r="1.75" fill="#000" />
<circle cx="591.98" cy="145.01" r="1.75" fill="#000" />
<circle cx="594.89" cy="145.01" r="1.75" fill="#000" />
<circle cx="592.27" cy="147.01" r="1.75" fill="#000" />
<circle cx="594.51" cy="147.01" r="1.75" fill="#000" />
<circle cx="592.34" cy="148.76" r="1.75" fill="#000" />
<circle cx="594.72" cy="148.76" r="1.75" fill="#000" />
<circle cx="592.18" cy="152.12" r="1.75" fill="#000" />
<circle cx="594.90" cy="152.12" r="1.75" fill="#000" />
<circle cx="592.30" cy="152.82" r="1.75" fill="#000" />
<circle cx="594.44" cy="152.82" r="1.75" fill="#000" />
<circle cx="591.18" cy="154.73" r="1.75" fill="#000" />
<circle cx="594.17" cy="154.73" r="1.75" fill="#000" />
<circle cx="592.08" cy="157.25" r="1.75" fill="#000" />
<circle cx="594.41" cy="157.25" r="1.75" fill="#000" />
<circle cx="592.20" cy="159.03" r="1.75" fill="#000" />
<circle cx="594.86" cy="159.03" r="1.75" fill="#000" />
<circle cx="591.12" cy="161.17" r="1.75" fill="#000" />
<circle cx="594.27" cy="161.17" r="1.75" fill="#000" />
<circle cx="592.32" cy="164.13" r="1.75" fill="#000" />
<circle cx="595.58" cy="164.13" r="1.75" fill="#000" />
<circle cx="591.36" cy="166.92" r="1.75" fill="#000" />
<circle cx="594.87" cy="166.92" r="1.75" fill="#000" />
<circle cx="591.50" cy="168.58" r="1.75" fill="#000" />
<circle cx="594.28" cy="168.58" r="1.75" fill="#000" />
<circle cx="592.24" cy="171.30" r="1.75" fill="#000" />
<circle cx="595.42" cy="171.30" r="1.75" fill="#000" />
<circle cx="591.80" cy="172.43" r="1.75" fill="#000" />
<circle cx="594.62" cy="172.43" r="1.75" fill="#000" />
<circle cx="591.67" cy="176.02" r="1.75" fill="#000" />
<circle cx="595.86" cy="176.02" r="1.75" fill="#000" />
<circle cx="591.18" cy="178.43" r="1.75" fill="#000" />
<circle cx="594.99" cy="178.43" r="1.75" fill="#000" />
<circle cx="591.69" cy="180.92" r="1.75" fill="#000" />
<circle cx="595.22" cy="180.92" r="1.75" fill="#000" />
<circle cx="592.15" cy="182.09" r="1.75" fill="#000" />
<circle cx="596.01" cy="182.09" r="1.75" fill="#000" />
<circle cx="592.45" cy="184.52" r="1.75" fill="#000" />
<circle cx="595.56" cy="184.52" r="1.75" fill="#000" />
<circle cx="592.22" cy="185.79" r="1.75" fill="#000" />
<circle cx="595.32" cy="185.79" r="1.75" fill="#000" />
<circle cx="592.47" cy="187.89" r="1.75" fill="#000" />
<circle cx="594.80" cy="187.89" r="1.75" fill="#000" />
<circle cx="591.69" cy="191.44" r="1.75" fill="#000" />
<circle cx="596.12" cy="191.44" r="1.75" fill="#000" />
<circle cx="591.25" cy="193.48" r="1.75" fill="#000" />
<circle cx="595.22" cy="193.48" r="1.75" fill="#000" />
<circle cx="591.73" cy="195.50" r="1.75" fill="#000" />
<circle cx="595.34" cy="195.50" r="1.75" fill="#000" />
<circle cx="591.17" cy="199.38" r="1.75" fill="#000" />
<circle cx="595.33" cy="199.38" r="1.75" fill="#000" />
<circle cx="592.26" cy="200.62" r="1.75" fill="#000" />
<circle cx="596.06" cy="200.62" r="1.75" fill="#000" />
<circle cx="591.63" cy="204.62" r="1.75" fill="#000" />
<circle cx="595.40" cy="204.62" r="1.75" fill="#000" />
<polygon points="584.80,150.00 581.80,157.00 581.30,170.00 581.30,190.00 581.30,203.00 581.30,210.00 581.60,220.00 582.10,229.00 583.10,240.00 584.10,252.00 584.90,262.00 585.80,268.00 586.80,271.50 588.30,273.50 590.20,273.50 591.90,271.50 593.30,268.00 594.30,262.00 594.90,252.00 595.70,240.00 595.70,229.00 595.70,220.00 595.50,210.00 588.20,203.00 586.70,190.00 586.00,170.00 585.70,157.00 584.20,150.00" fill="#000" />
<circle cx="585.30" cy="150.33" r="1.75" fill="#000" />
<circle cx="584.11" cy="150.33" r="1.75" fill="#000" />
<circle cx="583.42" cy="152.42" r="1.75" fill="#000" />
<circle cx="583.97" cy="152.42" r="1.75" fill="#000" />
<circle cx="582.83" cy="156.34" r="1.75" fill="#000" />
<circle cx="584.96" cy="156.34" r="1.75" fill="#000" />
<circle cx="581.61" cy="159.07" r="1.75" fill="#000" />
<circle cx="585.87" cy="159.07" r="1.75" fill="#000" />
<circle cx="581.95" cy="161.84" r="1.75" fill="#000" />
<circle cx="586.11" cy="161.84" r="1.75" fill="#000" />
<circle cx="580.98" cy="163.18" r="1.75" fill="#000" />
<circle cx="585.71" cy="163.18" r="1.75" fill="#000" />
<circle cx="581.12" cy="166.33" r="1.75" fill="#000" />
<circle cx="585.60" cy="166.33" r="1.75" fill="#000" />
<circle cx="580.81" cy="168.22" r="1.75" fill="#000" />
<circle cx="585.53" cy="168.22" r="1.75" fill="#000" />
<circle cx="581.41" cy="170.85" r="1.75" fill="#000" />
<circle cx="586.18" cy="170.85" r="1.75" fill="#000" />
<circle cx="582.17" cy="173.11" r="1.75" fill="#000" />
<circle cx="586.43" cy="173.11" r="1.75" fill="#000" />
<circle cx="581.74" cy="176.50" r="1.75" fill="#000" />
<circle cx="586.33" cy="176.50" r="1.75" fill="#000" />
<circle cx="581.90" cy="177.86" r="1.75" fill="#000" />
<circle cx="585.92" cy="177.86" r="1.75" fill="#000" />
<circle cx="581.72" cy="180.21" r="1.75" fill="#000" />
<circle cx="586.24" cy="180.21" r="1.75" fill="#000" />
<circle cx="580.82" cy="181.74" r="1.75" fill="#000" />
<circle cx="585.64" cy="181.74" r="1.75" fill="#000" />
<circle cx="581.57" cy="184.12" r="1.75" fill="#000" />
<circle cx="586.73" cy="184.12" r="1.75" fill="#000" />
<circle cx="581.16" cy="187.14" r="1.75" fill="#000" />
<circle cx="587.09" cy="187.14" r="1.75" fill="#000" />
<circle cx="581.77" cy="188.39" r="1.75" fill="#000" />
<circle cx="585.85" cy="188.39" r="1.75" fill="#000" />
<circle cx="581.70" cy="191.96" r="1.75" fill="#000" />
<circle cx="587.46" cy="191.96" r="1.75" fill="#000" />
<circle cx="581.73" cy="194.93" r="1.75" fill="#000" />
<circle cx="587.63" cy="194.93" r="1.75" fill="#000" />
<circle cx="581.62" cy="197.12" r="1.75" fill="#000" />
<circle cx="586.93" cy="197.12" r="1.75" fill="#000" />
<circle cx="582.04" cy="199.14" r="1.75" fill="#000" />
<circle cx="587.21" cy="199.14" r="1.75" fill="#000" />
<circle cx="581.52" cy="202.93" r="1.75" fill="#000" />
<circle cx="587.88" cy="202.93" r="1.75" fill="#000" />
<circle cx="581.29" cy="203.01" r="1.75" fill="#000" />
<circle cx="587.57" cy="203.01" r="1.75" fill="#000" />
<circle cx="582.05" cy="206.86" r="1.75" fill="#000" />
<circle cx="592.69" cy="206.86" r="1.75" fill="#000" />
<circle cx="581.28" cy="209.10" r="1.75" fill="#000" />
<circle cx="593.82" cy="209.10" r="1.75" fill="#000" />
<circle cx="581.58" cy="211.72" r="1.75" fill="#000" />
<circle cx="595.71" cy="211.72" r="1.75" fill="#000" />
<circle cx="582.13" cy="213.44" r="1.75" fill="#000" />
<circle cx="594.99" cy="213.44" r="1.75" fill="#000" />
<circle cx="581.27" cy="215.76" r="1.75" fill="#000" />
<circle cx="595.65" cy="215.76" r="1.75" fill="#000" />
<circle cx="581.24" cy="219.74" r="1.75" fill="#000" />
<circle cx="595.74" cy="219.74" r="1.75" fill="#000" />
<circle cx="581.43" cy="221.72" r="1.75" fill="#000" />
<circle cx="594.89" cy="221.72" r="1.75" fill="#000" />
<circle cx="582.44" cy="223.52" r="1.75" fill="#000" />
<circle cx="596.12" cy="223.52" r="1.75" fill="#000" />
<circle cx="581.97" cy="226.14" r="1.75" fill="#000" />
<circle cx="595.44" cy="226.14" r="1.75" fill="#000" />
<circle cx="582.80" cy="227.94" r="1.75" fill="#000" />
<circle cx="595.25" cy="227.94" r="1.75" fill="#000" />
<circle cx="582.46" cy="229.62" r="1.75" fill="#000" />
<circle cx="596.25" cy="229.62" r="1.75" fill="#000" />
<circle cx="581.78" cy="231.61" r="1.75" fill="#000" />
<circle cx="594.97" cy="231.61" r="1.75" fill="#000" />
<circle cx="582.92" cy="234.64" r="1.75" fill="#000" />
<circle cx="595.08" cy="234.64" r="1.75" fill="#000" />
<circle cx="583.03" cy="236.02" r="1.75" fill="#000" />
<circle cx="595.77" cy="236.02" r="1.75" fill="#000" />
<circle cx="583.53" cy="239.32" r="1.75" fill="#000" />
<circle cx="594.89" cy="239.32" r="1.75" fill="#000" />
<circle cx="583.85" cy="241.16" r="1.75" fill="#000" />
<circle cx="596.16" cy="241.16" r="1.75" fill="#000" />
<circle cx="584.04" cy="243.16" r="1.75" fill="#000" />
<circle cx="595.56" cy="243.16" r="1.75" fill="#000" />
<circle cx="583.43" cy="247.02" r="1.75" fill="#000" />
<circle cx="595.38" cy="247.02" r="1.75" fill="#000" />
<circle cx="583.98" cy="249.22" r="1.75" fill="#000" />
<circle cx="594.34" cy="249.22" r="1.75" fill="#000" />
<circle cx="583.57" cy="250.06" r="1.75" fill="#000" />
<circle cx="594.27" cy="250.06" r="1.75" fill="#000" />
<circle cx="584.45" cy="252.38" r="1.75" fill="#000" />
<circle cx="594.13" cy="252.38" r="1.75" fill="#000" />
<circle cx="584.96" cy="256.40" r="1.75" fill="#000" />
<circle cx="594.96" cy="256.40" r="1.75" fill="#000" />
<circle cx="585.13" cy="259.01" r="1.75" fill="#000" />
<circle cx="594.97" cy="259.01" r="1.75" fill="#000" />
<circle cx="585.23" cy="261.89" r="1.75" fill="#000" />
<circle cx="594.85" cy="261.89" r="1.75" fill="#000" />
<circle cx="584.50" cy="262.31" r="1.75" fill="#000" />
<circle cx="593.45" cy="262.31" r="1.75" fill="#000" />
<circle cx="585.40" cy="265.62" r="1.75" fill="#000" />
<circle cx="593.48" cy="265.62" r="1.75" fill="#000" />
<circle cx="586.99" cy="270.38" r="1.75" fill="#000" />
<circle cx="591.57" cy="270.38" r="1.75" fill="#000" />
<circle cx="587.62" cy="272.31" r="1.75" fill="#000" />
<circle cx="590.88" cy="272.31" r="1.75" fill="#000" />
<circle cx="595.40" cy="81.50" r="1.75" fill="#000" />
<circle cx="601.60" cy="96.30" r="1.75" fill="#000" />
<circle cx="596.90" cy="100.60" r="1.75" fill="#000" />
<circle cx="592.20" cy="105.50" r="1.75" fill="#000" />
<circle cx="582.10" cy="120.30" r="1.75" fill="#000" />
<circle cx="583.70" cy="126.20" r="1.75" fill="#000" />
<circle cx="581.10" cy="130.40" r="1.75" fill="#000" />
<circle cx="584.50" cy="136.00" r="1.75" fill="#000" />
<circle cx="583.00" cy="141.00" r="1.75" fill="#000" />
<circle cx="585.50" cy="147.80" r="1.75" fill="#000" />
<circle cx="591.50" cy="123.50" r="1.75" fill="#000" />
<circle cx="593.00" cy="128.00" r="1.75" fill="#000" />
<circle cx="597.50" cy="133.00" r="1.75" fill="#000" />
<circle cx="599.50" cy="136.00" r="1.75" fill="#000" />
<circle cx="587.30" cy="148.50" r="1.75" fill="#000" />
<circle cx="598.00" cy="150.00" r="1.75" fill="#000" />
<circle cx="599.50" cy="166.00" r="1.75" fill="#000" />
<circle cx="597.50" cy="187.00" r="1.75" fill="#000" />
<circle cx="599.00" cy="193.00" r="1.75" fill="#000" />
<circle cx="578.50" cy="181.00" r="1.75" fill="#000" />
<circle cx="578.00" cy="206.00" r="1.75" fill="#000" />
<circle cx="598.80" cy="216.00" r="1.75" fill="#000" />
<circle cx="578.80" cy="220.00" r="1.75" fill="#000" />
<circle cx="511.20" cy="244.00" r="1.75" fill="#000" />
<circle cx="514.90" cy="243.60" r="1.75" fill="#000" />
<circle cx="527.80" cy="243.60" r="1.75" fill="#000" />
<circle cx="526.00" cy="245.00" r="1.75" fill="#000" />
<circle cx="538.50" cy="244.30" r="1.75" fill="#000" />
<circle cx="540.50" cy="243.00" r="1.75" fill="#000" />
<circle cx="554.60" cy="231.20" r="1.75" fill="#000" />
<circle cx="620.40" cy="236.90" r="1.75" fill="#000" />
<circle cx="630.30" cy="244.30" r="1.75" fill="#000" />
<circle cx="641.00" cy="243.60" r="1.75" fill="#000" />
<circle cx="653.90" cy="243.60" r="1.75" fill="#000" />
<circle cx="662.60" cy="244.30" r="1.75" fill="#000" />
<circle cx="639.70" cy="250.30" r="1.75" fill="#000" />
<circle cx="611.00" cy="229.50" r="1.75" fill="#000" />
<circle cx="619.26" cy="245.34" r="1.55" fill="#000" />
<circle cx="569.56" cy="237.64" r="1.55" fill="#000" />
<circle cx="613.59" cy="244.64" r="1.55" fill="#000" />
<circle cx="577.76" cy="251.87" r="1.55" fill="#000" />
<circle cx="584.20" cy="243.89" r="1.55" fill="#000" />
<circle cx="597.49" cy="258.05" r="1.55" fill="#000" />
<circle cx="561.58" cy="242.86" r="1.55" fill="#000" />
<circle cx="584.48" cy="259.86" r="1.55" fill="#000" />
<circle cx="578.72" cy="262.57" r="1.55" fill="#000" />
<circle cx="600.58" cy="262.06" r="1.55" fill="#000" />
<circle cx="557.48" cy="245.33" r="1.55" fill="#000" />
<circle cx="600.83" cy="247.41" r="1.55" fill="#000" />
<circle cx="580.76" cy="240.19" r="1.55" fill="#000" />
<circle cx="562.46" cy="249.54" r="1.55" fill="#000" />
<circle cx="557.47" cy="242.43" r="1.55" fill="#000" />
<circle cx="606.37" cy="243.85" r="1.55" fill="#000" />
<circle cx="555.40" cy="245.51" r="1.55" fill="#000" />
<circle cx="594.62" cy="257.82" r="1.55" fill="#000" />
<circle cx="563.89" cy="244.40" r="1.55" fill="#000" />
<circle cx="574.06" cy="247.33" r="1.55" fill="#000" />
<circle cx="596.39" cy="256.86" r="1.55" fill="#000" />
<circle cx="574.57" cy="248.76" r="1.55" fill="#000" />
<circle cx="601.95" cy="253.98" r="1.55" fill="#000" />
<circle cx="575.58" cy="243.87" r="1.55" fill="#000" />
<circle cx="582.57" cy="242.23" r="1.55" fill="#000" />
<circle cx="583.33" cy="262.68" r="1.55" fill="#000" />
<circle cx="572.09" cy="242.55" r="1.55" fill="#000" />
<circle cx="571.44" cy="239.53" r="1.55" fill="#000" />
<circle cx="594.90" cy="250.64" r="1.55" fill="#000" />
<circle cx="596.86" cy="256.45" r="1.55" fill="#000" />
<circle cx="612.64" cy="243.65" r="1.55" fill="#000" />
<circle cx="596.36" cy="249.20" r="1.55" fill="#000" />
<circle cx="570.11" cy="255.23" r="1.55" fill="#000" />
<circle cx="568.53" cy="243.22" r="1.55" fill="#000" />
<circle cx="572.17" cy="241.04" r="1.55" fill="#000" />
<circle cx="612.47" cy="240.66" r="1.55" fill="#000" />
<circle cx="574.65" cy="240.08" r="1.55" fill="#000" />
<circle cx="602.55" cy="251.68" r="1.55" fill="#000" />
<circle cx="616.16" cy="241.34" r="1.55" fill="#000" />
<circle cx="555.42" cy="239.83" r="1.55" fill="#000" />
<circle cx="568.65" cy="244.09" r="1.55" fill="#000" />
<circle cx="610.31" cy="239.65" r="1.55" fill="#000" />
<circle cx="565.62" cy="243.58" r="1.55" fill="#000" />
<circle cx="623.75" cy="247.48" r="1.55" fill="#000" />
<circle cx="559.86" cy="243.23" r="1.55" fill="#000" />
<circle cx="615.79" cy="238.73" r="1.55" fill="#000" />
<circle cx="566.53" cy="246.09" r="1.55" fill="#000" />
<circle cx="606.25" cy="250.11" r="1.55" fill="#000" />
<circle cx="618.46" cy="247.88" r="1.55" fill="#000" />
<circle cx="614.49" cy="240.41" r="1.55" fill="#000" />
<circle cx="612.97" cy="245.34" r="1.55" fill="#000" />
<circle cx="594.80" cy="242.50" r="1.55" fill="#000" />
<circle cx="559.45" cy="244.36" r="1.55" fill="#000" />
<circle cx="595.07" cy="250.11" r="1.55" fill="#000" />
<circle cx="583.19" cy="241.86" r="1.55" fill="#000" />
<circle cx="579.74" cy="243.32" r="1.55" fill="#000" />
<circle cx="569.57" cy="247.48" r="1.55" fill="#000" />
<circle cx="561.93" cy="241.98" r="1.55" fill="#000" />
<circle cx="594.29" cy="248.49" r="1.55" fill="#000" />
<circle cx="571.92" cy="240.51" r="1.55" fill="#000" />
<circle cx="602.92" cy="239.20" r="1.55" fill="#000" />
<circle cx="596.12" cy="251.90" r="1.55" fill="#000" />
<circle cx="563.76" cy="242.57" r="1.55" fill="#000" />
<circle cx="625.76" cy="239.44" r="1.55" fill="#000" />
<circle cx="602.79" cy="240.96" r="1.55" fill="#000" />
<circle cx="609.59" cy="245.92" r="1.55" fill="#000" />
<circle cx="602.26" cy="253.47" r="1.55" fill="#000" />
<circle cx="581.79" cy="252.41" r="1.55" fill="#000" />
<circle cx="597.08" cy="253.96" r="1.55" fill="#000" />
<circle cx="602.98" cy="245.78" r="1.55" fill="#000" />
<circle cx="576.29" cy="254.78" r="1.55" fill="#000" />
<circle cx="610.99" cy="243.15" r="1.55" fill="#000" />
<circle cx="571.70" cy="243.91" r="1.55" fill="#000" />
<circle cx="606.77" cy="243.37" r="1.55" fill="#000" />
<circle cx="581.41" cy="253.77" r="1.55" fill="#000" />
<circle cx="576.24" cy="251.61" r="1.55" fill="#000" />
<circle cx="594.53" cy="251.59" r="1.55" fill="#000" />
<circle cx="599.48" cy="245.13" r="1.55" fill="#000" />
<circle cx="562.16" cy="250.91" r="1.55" fill="#000" />
<circle cx="559.81" cy="240.19" r="1.55" fill="#000" />
<circle cx="566.32" cy="241.00" r="1.55" fill="#000" />
<circle cx="576.11" cy="247.42" r="1.55" fill="#000" />
<circle cx="573.83" cy="251.00" r="1.55" fill="#000" />
<circle cx="594.97" cy="244.76" r="1.55" fill="#000" />
<circle cx="608.83" cy="238.84" r="1.55" fill="#000" />
<circle cx="604.58" cy="248.18" r="1.55" fill="#000" />
<circle cx="612.73" cy="237.91" r="1.55" fill="#000" />
<circle cx="572.65" cy="252.78" r="1.55" fill="#000" />
<circle cx="576.12" cy="252.41" r="1.55" fill="#000" />
<circle cx="604.74" cy="243.37" r="1.55" fill="#000" />
<circle cx="568.98" cy="244.25" r="1.55" fill="#000" />
<circle cx="568.08" cy="242.87" r="1.55" fill="#000" />
<circle cx="625.09" cy="244.91" r="1.55" fill="#000" />
<circle cx="578.28" cy="258.60" r="1.55" fill="#000" />
<circle cx="614.38" cy="247.71" r="1.55" fill="#000" />
<circle cx="595.21" cy="259.15" r="1.55" fill="#000" />
<circle cx="559.75" cy="244.27" r="1.55" fill="#000" />
<circle cx="617.27" cy="245.03" r="1.55" fill="#000" />
<circle cx="597.27" cy="253.50" r="1.55" fill="#000" />
<circle cx="580.32" cy="253.79" r="1.55" fill="#000" />
<circle cx="581.78" cy="247.85" r="1.55" fill="#000" />
<circle cx="583.10" cy="252.64" r="1.55" fill="#000" />
<circle cx="571.03" cy="243.83" r="1.55" fill="#000" />
<circle cx="606.69" cy="254.22" r="1.55" fill="#000" />
<circle cx="583.15" cy="255.61" r="1.55" fill="#000" />
<circle cx="560.70" cy="245.22" r="1.55" fill="#000" />
<circle cx="561.37" cy="243.33" r="1.55" fill="#000" />
<circle cx="581.09" cy="244.32" r="1.55" fill="#000" />
<circle cx="552.66" cy="246.88" r="1.55" fill="#000" />
<circle cx="554.70" cy="242.98" r="1.55" fill="#000" />
<circle cx="596.05" cy="241.64" r="1.55" fill="#000" />
<circle cx="599.31" cy="260.00" r="1.55" fill="#000" />
<circle cx="575.20" cy="251.85" r="1.55" fill="#000" />
<circle cx="553.70" cy="242.69" r="1.55" fill="#000" />
<circle cx="580.62" cy="261.83" r="1.55" fill="#000" />
<circle cx="598.94" cy="241.43" r="1.55" fill="#000" />
<circle cx="614.46" cy="244.21" r="1.55" fill="#000" />
<circle cx="602.35" cy="242.51" r="1.55" fill="#000" />
<circle cx="561.81" cy="242.31" r="1.55" fill="#000" />
<circle cx="572.88" cy="240.87" r="1.55" fill="#000" />
<circle cx="613.54" cy="244.53" r="1.55" fill="#000" />
<circle cx="607.72" cy="248.46" r="1.55" fill="#000" />
<circle cx="582.08" cy="239.41" r="1.55" fill="#000" />
<circle cx="583.56" cy="260.30" r="1.55" fill="#000" />
<circle cx="569.35" cy="240.99" r="1.55" fill="#000" />
<circle cx="612.10" cy="240.98" r="1.55" fill="#000" />
<circle cx="580.51" cy="242.48" r="1.55" fill="#000" />
<circle cx="572.89" cy="253.25" r="1.55" fill="#000" />
<circle cx="577.52" cy="245.37" r="1.55" fill="#000" />
<circle cx="576.44" cy="242.51" r="1.55" fill="#000" />
<circle cx="583.74" cy="261.16" r="1.55" fill="#000" />
<circle cx="614.95" cy="244.86" r="1.55" fill="#000" />
<circle cx="558.16" cy="242.61" r="1.55" fill="#000" />
<circle cx="597.57" cy="243.50" r="1.55" fill="#000" />
<circle cx="578.26" cy="240.51" r="1.55" fill="#000" />
<circle cx="575.60" cy="246.39" r="1.55" fill="#000" />
<circle cx="553.06" cy="247.37" r="1.55" fill="#000" />
<circle cx="597.57" cy="244.47" r="1.55" fill="#000" />
<circle cx="604.67" cy="254.83" r="1.55" fill="#000" />
<circle cx="583.02" cy="257.61" r="1.55" fill="#000" />
<circle cx="583.42" cy="251.98" r="1.55" fill="#000" />
<circle cx="607.78" cy="244.42" r="1.55" fill="#000" />
<circle cx="582.75" cy="260.53" r="1.55" fill="#000" />
<circle cx="577.86" cy="239.83" r="1.55" fill="#000" />
<circle cx="583.04" cy="244.83" r="1.55" fill="#000" />
<circle cx="575.80" cy="239.45" r="1.55" fill="#000" />
<circle cx="567.56" cy="240.98" r="1.55" fill="#000" />
<circle cx="575.53" cy="240.40" r="1.55" fill="#000" />
<circle cx="584.10" cy="251.77" r="1.55" fill="#000" />
<circle cx="564.29" cy="245.44" r="1.55" fill="#000" />
<line x1="585.60" y1="24.90" x2="585.60" y2="285.60" stroke="#ff1a1a" stroke-width="1.25" stroke-dasharray="3.1 3.7"/>
<line x1="592.00" y1="24.90" x2="592.00" y2="285.60" stroke="#ff1a1a" stroke-width="1.25" stroke-dasharray="3.1 3.7"/>
<circle cx="578.70" cy="28.30" r="2.50" fill="#c0263a" />
<circle cx="597.80" cy="72.30" r="1.55" fill="#8a3d9f" />
<circle cx="599.60" cy="113.80" r="1.55" fill="#8a3d9f" />
<circle cx="596.50" cy="118.10" r="1.55" fill="#8a3d9f" />
<circle cx="583.70" cy="132.40" r="1.55" fill="#8a3d9f" />
<circle cx="581.90" cy="149.30" r="1.55" fill="#8a3d9f" />
<circle cx="593.30" cy="167.70" r="1.55" fill="#8a3d9f" />
<circle cx="595.90" cy="174.30" r="1.55" fill="#8a3d9f" />
<circle cx="593.70" cy="194.00" r="1.55" fill="#8a3d9f" />
<circle cx="582.60" cy="198.40" r="1.55" fill="#8a3d9f" />
<circle cx="594.50" cy="208.30" r="1.55" fill="#8a3d9f" />
<circle cx="594.50" cy="223.20" r="1.55" fill="#8a3d9f" />
<text x="567.60" y="38.40" font-size="8.7" fill="#c0263a">Cul3</text>
<text x="601.20" y="74.70" font-size="8.7" fill="#8a3d9f">Pls3</text>
<line x1="601.20" y1="76.10" x2="618.12" y2="76.10" stroke="#8a3d9f" stroke-width="0.8" />
<text x="602.80" y="116.30" font-size="8.7" fill="#8a3d9f">Nisch</text>
<text x="599.70" y="123.20" font-size="8.7" fill="#8a3d9f">Ina</text>
<line x1="599.70" y1="124.60" x2="611.79" y2="124.60" stroke="#8a3d9f" stroke-width="0.8" />
<text x="577.20" y="134.90" font-size="8.7" text-anchor="end" fill="#8a3d9f">Kif3c</text>
<text x="577.60" y="150.80" font-size="8.7" text-anchor="end" fill="#8a3d9f">Map2</text>
<line x1="555.84" y1="152.20" x2="577.60" y2="152.20" stroke="#8a3d9f" stroke-width="0.8" />
<text x="596.20" y="164.80" font-size="8.7" fill="#8a3d9f">Vim</text>
<text x="599.60" y="176.80" font-size="8.7" fill="#8a3d9f">Arpc2</text>
<text x="600.60" y="195.90" font-size="8.7" fill="#8a3d9f">Pdlim1</text>
<text x="579.40" y="200.30" font-size="8.7" text-anchor="end" fill="#8a3d9f">Podxl2</text>
<line x1="552.80" y1="201.70" x2="579.40" y2="201.70" stroke="#8a3d9f" stroke-width="0.8" />
<text x="599.10" y="210.80" font-size="8.7" fill="#8a3d9f">Vps18</text>
<line x1="599.10" y1="212.20" x2="623.77" y2="212.20" stroke="#8a3d9f" stroke-width="0.8" />
<text x="599.90" y="224.40" font-size="8.7" fill="#8a3d9f">Arpc3</text>
<rect x="505.70" y="22.30" width="166.30" height="263.30" fill="none" stroke="#3a3a3a" stroke-width="1.5" />
<line x1="503.50" y1="272.20" x2="505.70" y2="272.20" stroke="#3a3a3a" stroke-width="1.2" />
<text x="501.50" y="274.50" font-size="10.4" text-anchor="end" fill="#222" textLength="5.07" lengthAdjust="spacingAndGlyphs">0</text>
<line x1="503.50" y1="172.60" x2="505.70" y2="172.60" stroke="#3a3a3a" stroke-width="1.2" />
<text x="501.50" y="174.90" font-size="10.4" text-anchor="end" fill="#222" textLength="5.07" lengthAdjust="spacingAndGlyphs">5</text>
<line x1="503.50" y1="73.00" x2="505.70" y2="73.00" stroke="#3a3a3a" stroke-width="1.2" />
<text x="501.50" y="75.30" font-size="10.4" text-anchor="end" fill="#222" textLength="10.13" lengthAdjust="spacingAndGlyphs">10</text>
<line x1="535.15" y1="285.60" x2="535.15" y2="287.20" stroke="#3a3a3a" stroke-width="1.2" />
<text x="535.45" y="295.40" font-size="7.5" text-anchor="middle" fill="#222">−5</text>
<line x1="562.27" y1="285.60" x2="562.27" y2="287.20" stroke="#3a3a3a" stroke-width="1.2" />
<text x="562.57" y="295.40" font-size="7.5" text-anchor="middle" fill="#222">−2.5</text>
<line x1="589.40" y1="285.60" x2="589.40" y2="287.20" stroke="#3a3a3a" stroke-width="1.2" />
<text x="589.40" y="295.40" font-size="7.5" text-anchor="middle" fill="#222">0</text>
<line x1="616.52" y1="285.60" x2="616.52" y2="287.20" stroke="#3a3a3a" stroke-width="1.2" />
<text x="616.52" y="295.40" font-size="7.5" text-anchor="middle" fill="#222">2.5</text>
<line x1="643.65" y1="285.60" x2="643.65" y2="287.20" stroke="#3a3a3a" stroke-width="1.2" />
<text x="643.65" y="295.40" font-size="7.5" text-anchor="middle" fill="#222">5</text>
<text x="589.00" y="304.40" font-size="8.6" text-anchor="middle" fill="#222">Log2(ratio)</text>
<text x="0.00" y="0.00" font-size="9.55" text-anchor="middle" fill="#222" transform="translate(494.90,145.4) rotate(-90)">−Log10(P value)</text>
<text x="507.60" y="19.70" font-size="10.6" font-style="italic" fill="#111"><tspan>Cul3</tspan><tspan font-size="6.15" dy="-4.03">fl/fl</tspan><tspan dy="4.03">​</tspan><tspan> Emx1-Cre</tspan></text>
<text x="195.30" y="14.50" font-size="16" font-weight="bold">b</text>
<text x="340.40" y="11.20" font-size="16" font-weight="bold">c</text>
<text x="486.60" y="11.70" font-size="16" font-weight="bold">d</text>
<text x="7.40" y="323.60" font-size="16" font-weight="bold">e</text>
<text x="100.90" y="341.00" font-size="9.3" text-anchor="end" font-weight="bold" fill="#111">140 proteins</text>
<text x="113.70" y="341.20" font-size="9.3" font-weight="bold" fill="#111">178 proteins</text>
<line x1="21.00" y1="344.70" x2="105.60" y2="344.70" stroke="#000" stroke-width="1.7" />
<polygon points="15.80,344.70 22.40,341.60 21.00,344.70 22.40,347.80" fill="#000" />
<line x1="109.00" y1="344.70" x2="192.00" y2="344.70" stroke="#000" stroke-width="1.7" />
<polygon points="198.20,344.70 191.60,341.60 193.00,344.70 191.60,347.80" fill="#000" />
<line x1="105.60" y1="343.90" x2="105.60" y2="478.80" stroke="#000" stroke-width="1.6" />
<line x1="109.00" y1="343.90" x2="109.00" y2="478.80" stroke="#000" stroke-width="1.6" />
<text x="101.50" y="358.20" font-size="9.4" text-anchor="end" fill="#c8283a" xml:space="preserve">Proteasome compl.</text>
<text x="101.50" y="371.90" font-size="9.4" text-anchor="end" fill="#2a2a2a" xml:space="preserve">Forebrain dev.</text>
<text x="101.50" y="388.70" font-size="9.4" text-anchor="end" fill="#2a2a2a" xml:space="preserve">Microtubule </text>
<text x="101.50" y="400.80" font-size="9.4" text-anchor="end" fill="#2a2a2a" xml:space="preserve">cytoskeleton</text>
<text x="101.50" y="417.60" font-size="9.4" text-anchor="end" fill="#2a2a2a" xml:space="preserve">Cell migration reg.</text>
<text x="101.50" y="436.80" font-size="9.4" text-anchor="end" fill="#2a2a2a" xml:space="preserve">Cell leading edge</text>
<text x="101.50" y="454.40" font-size="9.4" text-anchor="end" fill="#2a2a2a" xml:space="preserve">Cell junction</text>
<text x="101.50" y="472.70" font-size="9.4" text-anchor="end" fill="#2a2a2a" xml:space="preserve">Neg. reg. of apoptosis</text>
<text x="113.70" y="358.40" font-size="9.4" fill="#c8283a">RNA pol. II activity</text>
<text x="113.70" y="372.20" font-size="9.4" fill="#2a2a2a">CNS dev.</text>
<text x="113.70" y="394.50" font-size="9.4" fill="#2a2a2a">Actin binding</text>
<text x="113.70" y="417.60" font-size="9.4" fill="#2a2a2a">Cell cycle reg.</text>
<text x="113.70" y="436.80" font-size="9.4" fill="#2a2a2a">Cell adhesion</text>
<text x="113.70" y="458.00" font-size="9.4" fill="#2a2a2a">Cullin-Ring Ubiquitin</text>
<text x="113.70" y="470.40" font-size="9.4" fill="#2a2a2a">ligase compl.</text>
<text x="195.80" y="323.60" font-size="16" font-weight="bold">f</text>
<text x="340.40" y="323.40" font-size="16" font-weight="bold">g</text>
<text x="218.60" y="336.90" font-size="13.5" fill="#1a1a1a">Up:</text>
<line x1="218.10" y1="338.50" x2="238.90" y2="338.50" stroke="#1a1a1a" stroke-width="1.1" />
<text x="364.90" y="339.60" font-size="13.5" fill="#1a1a1a">Down:</text>
<line x1="364.40" y1="341.30" x2="402.70" y2="341.30" stroke="#555" stroke-width="1.2" />
<g style="isolation:isolate">
<circle cx="237.30" cy="393.2" r="26.4" fill="#dbe9f5" style="mix-blend-mode:multiply"/>
<circle cx="272.10" cy="419.3" r="32.9" fill="#cdd1e4" style="mix-blend-mode:multiply"/>
<circle cx="276.10" cy="375.6" r="29.7" fill="#afd2cd" style="mix-blend-mode:multiply"/>
</g>
<text x="231.40" y="389.60" font-size="9.6" text-anchor="middle" font-style="italic" fill="#3b8fd2"><tspan>Cul3</tspan><tspan font-size="5.20" dy="-3.60">+/-</tspan><tspan dy="3.60">​</tspan></text>
<text x="231.80" y="400.50" font-size="9.3" text-anchor="middle" font-weight="bold" fill="#3b8fd2">566</text>
<text x="278.50" y="358.20" font-size="9.4" text-anchor="middle" font-style="italic" fill="#2c7d72">+/fl</text>
<text x="278.00" y="370.10" font-size="9.4" text-anchor="middle" font-style="italic" fill="#2c7d72">Emx1-Cre</text>
<text x="278.00" y="381.30" font-size="9.3" text-anchor="middle" font-weight="bold" fill="#2c7d72">609</text>
<text x="272.90" y="416.50" font-size="9.4" text-anchor="middle" font-style="italic" fill="#35427c">fl/fl</text>
<text x="274.00" y="427.40" font-size="9.4" text-anchor="middle" font-style="italic" fill="#35427c">Emx1-Cre</text>
<text x="274.10" y="439.60" font-size="9.3" text-anchor="middle" font-weight="bold" fill="#35427c">1017</text>
<text x="254.10" y="384.50" font-size="8.6" text-anchor="middle" font-weight="bold" fill="#3b4c96">72</text>
<text x="259.40" y="396.90" font-size="8.6" text-anchor="middle" font-weight="bold" fill="#3b4c96">76</text>
<text x="274.00" y="399.30" font-size="8.6" text-anchor="middle" font-weight="bold" fill="#3b4c96">383</text>
<text x="251.30" y="408.50" font-size="8.6" text-anchor="middle" font-weight="bold" fill="#3b4c96">246</text>
<text x="310.90" y="389.30" font-size="10.7" font-weight="bold" fill="#4659ad">Pls3</text>
<text x="310.90" y="402.40" font-size="10.7" fill="#4659ad">Nisch</text>
<text x="310.60" y="422.90" font-size="10.7" fill="#4659ad">Vps18</text>
<text x="224.40" y="438.50" font-size="10.7" text-anchor="middle" fill="#4659ad">Top2b</text>
<text x="224.40" y="451.40" font-size="10.7" text-anchor="middle" fill="#4659ad">Ina</text>
<line x1="262.90" y1="390.70" x2="309.70" y2="385.40" stroke="#4659ad" stroke-width="1.1" />
<line x1="284.30" y1="400.70" x2="308.00" y2="418.20" stroke="#4659ad" stroke-width="1.1" />
<line x1="246.10" y1="412.40" x2="231.80" y2="426.00" stroke="#4659ad" stroke-width="1.1" />
<g style="isolation:isolate">
<circle cx="378.50" cy="393.2" r="26.4" fill="#dbe9f5" style="mix-blend-mode:multiply"/>
<circle cx="413.30" cy="419.3" r="32.9" fill="#cdd1e4" style="mix-blend-mode:multiply"/>
<circle cx="417.30" cy="375.6" r="29.7" fill="#afd2cd" style="mix-blend-mode:multiply"/>
</g>
<text x="372.60" y="389.60" font-size="9.6" text-anchor="middle" font-style="italic" fill="#3b8fd2"><tspan>Cul3</tspan><tspan font-size="5.20" dy="-3.60">+/-</tspan><tspan dy="3.60">​</tspan></text>
<text x="373.00" y="400.50" font-size="9.3" text-anchor="middle" font-weight="bold" fill="#3b8fd2">516</text>
<text x="419.70" y="358.20" font-size="9.4" text-anchor="middle" font-style="italic" fill="#2c7d72">+/fl</text>
<text x="419.20" y="370.10" font-size="9.4" text-anchor="middle" font-style="italic" fill="#2c7d72">Emx1-Cre</text>
<text x="419.20" y="381.30" font-size="9.3" text-anchor="middle" font-weight="bold" fill="#2c7d72">622</text>
<text x="414.10" y="416.50" font-size="9.4" text-anchor="middle" font-style="italic" fill="#35427c">fl/fl</text>
<text x="415.20" y="427.40" font-size="9.4" text-anchor="middle" font-style="italic" fill="#35427c">Emx1-Cre</text>
<text x="415.30" y="439.60" font-size="9.3" text-anchor="middle" font-weight="bold" fill="#35427c">1036</text>
<text x="395.80" y="384.40" font-size="8.6" text-anchor="middle" font-weight="bold" fill="#3b4c96">75</text>
<text x="401.20" y="396.80" font-size="8.6" text-anchor="middle" font-weight="bold" fill="#3b4c96">60</text>
<text x="415.70" y="399.30" font-size="8.6" text-anchor="middle" font-weight="bold" fill="#3b4c96">327</text>
<text x="391.20" y="409.20" font-size="8.6" text-anchor="middle" font-weight="bold" fill="#3b4c96">231</text>
<text x="452.20" y="388.90" font-size="10.7" font-weight="bold" fill="#4659ad">Cul3</text>
<text x="451.70" y="422.90" font-size="10.7" fill="#4659ad">Nefm</text>
<text x="365.20" y="438.50" font-size="10.7" text-anchor="middle" fill="#4659ad">Map2</text>
<text x="365.40" y="451.40" font-size="10.7" text-anchor="middle" fill="#4659ad">Tubb2b</text>
<line x1="405.00" y1="389.40" x2="451.20" y2="385.10" stroke="#4659ad" stroke-width="1.1" />
<line x1="425.60" y1="400.50" x2="449.20" y2="417.90" stroke="#4659ad" stroke-width="1.1" />
<line x1="385.90" y1="412.90" x2="371.00" y2="427.80" stroke="#4659ad" stroke-width="1.1" />
<text x="486.10" y="323.50" font-size="16" font-weight="bold">h</text>
<line x1="519.70" y1="341.00" x2="519.70" y2="456.70" stroke="#000" stroke-width="1.6" />
<line x1="516.10" y1="455.90" x2="580.20" y2="455.90" stroke="#000" stroke-width="1.6" />
<line x1="515.90" y1="341.60" x2="519.70" y2="341.60" stroke="#000" stroke-width="1.3" />
<text x="513.40" y="344.00" font-size="9.6" text-anchor="end" fill="#1a1a1a" textLength="11.1" lengthAdjust="spacingAndGlyphs">8.8</text>
<line x1="515.90" y1="370.18" x2="519.70" y2="370.18" stroke="#000" stroke-width="1.3" />
<text x="513.40" y="372.57" font-size="9.6" text-anchor="end" fill="#1a1a1a" textLength="11.1" lengthAdjust="spacingAndGlyphs">8.7</text>
<line x1="515.90" y1="398.75" x2="519.70" y2="398.75" stroke="#000" stroke-width="1.3" />
<text x="513.40" y="401.15" font-size="9.6" text-anchor="end" fill="#1a1a1a" textLength="11.1" lengthAdjust="spacingAndGlyphs">8.6</text>
<line x1="515.90" y1="427.32" x2="519.70" y2="427.32" stroke="#000" stroke-width="1.3" />
<text x="513.40" y="429.72" font-size="9.6" text-anchor="end" fill="#1a1a1a" textLength="11.1" lengthAdjust="spacingAndGlyphs">8.5</text>
<line x1="515.90" y1="455.90" x2="519.70" y2="455.90" stroke="#000" stroke-width="1.3" />
<text x="513.40" y="458.30" font-size="9.6" text-anchor="end" fill="#1a1a1a" textLength="11.1" lengthAdjust="spacingAndGlyphs">8.4</text>
<line x1="525.40" y1="455.90" x2="525.40" y2="459.20" stroke="#000" stroke-width="1.3" />
<line x1="537.00" y1="455.90" x2="537.00" y2="459.20" stroke="#000" stroke-width="1.3" />
<line x1="548.60" y1="455.90" x2="548.60" y2="459.20" stroke="#000" stroke-width="1.3" />
<line x1="560.20" y1="455.90" x2="560.20" y2="459.20" stroke="#000" stroke-width="1.3" />
<line x1="571.80" y1="455.90" x2="571.80" y2="459.20" stroke="#000" stroke-width="1.3" />
<text x="0.00" y="0.00" font-size="10.7" text-anchor="middle" fill="#222" transform="translate(496.80,400.60) rotate(-90)">Pls3 mean expression level</text>
<text x="0.00" y="0.00" font-size="9.6" text-anchor="end" font-style="italic" fill="#333" transform="translate(528.80,467.40) rotate(-44)"><tspan>Cul3</tspan><tspan font-size="5.20" dy="-3.40">+/+</tspan><tspan dy="3.40">​</tspan></text>
<text x="0.00" y="0.00" font-size="9.6" text-anchor="end" font-style="italic" fill="#333" transform="translate(540.40,467.40) rotate(-44)"><tspan>Cul3</tspan><tspan font-size="5.20" dy="-3.40">+/-</tspan><tspan dy="3.40">​</tspan></text>
<text x="0.00" y="0.00" font-size="9.6" text-anchor="end" font-style="italic" fill="#333" transform="translate(552.00,467.40) rotate(-44)"><tspan>Cul3</tspan><tspan font-size="5.20" dy="-3.40">+/fl</tspan><tspan dy="3.40">​</tspan></text>
<text x="0.00" y="0.00" font-size="9.6" text-anchor="end" font-style="italic" fill="#333" transform="translate(570.50,464.40) rotate(-44)"><tspan>Cul3</tspan><tspan font-size="5.20" dy="-3.40">+/fl</tspan><tspan dy="3.40">​</tspan><tspan> Emx1-Cre</tspan></text>
<text x="0.00" y="0.00" font-size="9.6" text-anchor="end" font-style="italic" fill="#333" transform="translate(584.10,464.70) rotate(-44)"><tspan>Cul3</tspan><tspan font-size="5.20" dy="-3.40">fl/fl</tspan><tspan dy="3.40">​</tspan><tspan> Emx1-Cre</tspan></text>
<line x1="525.50" y1="421.20" x2="525.50" y2="424.30" stroke="#6e6e6e" stroke-width="1.6" />
<line x1="523.25" y1="421.20" x2="527.75" y2="421.20" stroke="#6e6e6e" stroke-width="1.6" />
<line x1="525.50" y1="434.30" x2="525.50" y2="436.40" stroke="#6e6e6e" stroke-width="1.6" />
<line x1="523.25" y1="436.40" x2="527.75" y2="436.40" stroke="#6e6e6e" stroke-width="1.6" />
<rect x="522.20" y="424.30" width="6.60" height="10.00" fill="#d4d4d4" stroke="#6e6e6e" stroke-width="1.6" />
<line x1="522.20" y1="427.50" x2="528.80" y2="427.50" stroke="#6e6e6e" stroke-width="1.6" />
<line x1="537.25" y1="379.80" x2="537.25" y2="384.20" stroke="#1f88b6" stroke-width="1.6" />
<line x1="534.80" y1="379.80" x2="539.70" y2="379.80" stroke="#1f88b6" stroke-width="1.6" />
<rect x="533.60" y="384.20" width="7.30" height="22.60" fill="#92c2f2" stroke="#1f88b6" stroke-width="1.6" />
<line x1="533.60" y1="388.60" x2="540.90" y2="388.60" stroke="#1f88b6" stroke-width="1.6" />
<line x1="548.75" y1="423.50" x2="548.75" y2="424.90" stroke="#6e6e6e" stroke-width="1.6" />
<line x1="546.41" y1="423.50" x2="551.09" y2="423.50" stroke="#6e6e6e" stroke-width="1.6" />
<line x1="548.75" y1="439.00" x2="548.75" y2="439.90" stroke="#6e6e6e" stroke-width="1.6" />
<line x1="546.41" y1="439.90" x2="551.09" y2="439.90" stroke="#6e6e6e" stroke-width="1.6" />
<rect x="545.30" y="424.90" width="6.90" height="14.10" fill="#d4d4d4" stroke="#6e6e6e" stroke-width="1.6" />
<line x1="545.30" y1="437.20" x2="552.20" y2="437.20" stroke="#6e6e6e" stroke-width="1.6" />
<rect x="557.00" y="392.10" width="6.90" height="16.40" fill="#bdf0d6" stroke="#26ab6c" stroke-width="1.6" />
<line x1="557.00" y1="398.00" x2="563.90" y2="398.00" stroke="#26ab6c" stroke-width="1.6" />
<rect x="569.10" y="357.00" width="6.60" height="10.00" fill="#b9b9f4" stroke="#1a1ad2" stroke-width="1.6" />
<line x1="569.10" y1="362.10" x2="575.70" y2="362.10" stroke="#1a1ad2" stroke-width="1.6" />
<line x1="547.20" y1="439.50" x2="572.40" y2="355.30" stroke="#d12b2b" stroke-width="1.6" stroke-dasharray="4 2.6"/>
<text x="543.90" y="450.80" font-size="8.3" fill="#d0343a"><tspan>R</tspan><tspan font-size="5.00" dy="-3.30">2</tspan><tspan dy="3.30">​</tspan><tspan>= 0.999</tspan></text>
<line x1="621.40" y1="340.80" x2="621.40" y2="456.70" stroke="#000" stroke-width="1.6" />
<line x1="617.80" y1="455.90" x2="681.90" y2="455.90" stroke="#000" stroke-width="1.6" />
<line x1="617.60" y1="341.40" x2="621.40" y2="341.40" stroke="#000" stroke-width="1.3" />
<text x="615.90" y="343.80" font-size="9.6" text-anchor="end" fill="#1a1a1a" textLength="11.1" lengthAdjust="spacingAndGlyphs">9.6</text>
<line x1="617.60" y1="370.02" x2="621.40" y2="370.02" stroke="#000" stroke-width="1.3" />
<text x="615.90" y="372.42" font-size="9.6" text-anchor="end" fill="#1a1a1a" textLength="11.1" lengthAdjust="spacingAndGlyphs">9.5</text>
<line x1="617.60" y1="398.65" x2="621.40" y2="398.65" stroke="#000" stroke-width="1.3" />
<text x="615.90" y="401.05" font-size="9.6" text-anchor="end" fill="#1a1a1a" textLength="11.1" lengthAdjust="spacingAndGlyphs">9.4</text>
<line x1="617.60" y1="427.27" x2="621.40" y2="427.27" stroke="#000" stroke-width="1.3" />
<text x="615.90" y="429.67" font-size="9.6" text-anchor="end" fill="#1a1a1a" textLength="11.1" lengthAdjust="spacingAndGlyphs">9.3</text>
<line x1="617.60" y1="455.90" x2="621.40" y2="455.90" stroke="#000" stroke-width="1.3" />
<text x="615.90" y="458.30" font-size="9.6" text-anchor="end" fill="#1a1a1a" textLength="11.1" lengthAdjust="spacingAndGlyphs">9.2</text>
<line x1="627.10" y1="455.90" x2="627.10" y2="459.20" stroke="#000" stroke-width="1.3" />
<line x1="638.70" y1="455.90" x2="638.70" y2="459.20" stroke="#000" stroke-width="1.3" />
<line x1="650.30" y1="455.90" x2="650.30" y2="459.20" stroke="#000" stroke-width="1.3" />
<line x1="661.90" y1="455.90" x2="661.90" y2="459.20" stroke="#000" stroke-width="1.3" />
<line x1="673.50" y1="455.90" x2="673.50" y2="459.20" stroke="#000" stroke-width="1.3" />
<text x="0.00" y="0.00" font-size="10.7" text-anchor="middle" fill="#222" transform="translate(598.60,398.30) rotate(-90)">Ina1 mean expression level</text>
<text x="0.00" y="0.00" font-size="9.6" text-anchor="end" font-style="italic" fill="#333" transform="translate(630.50,467.40) rotate(-44)"><tspan>Cul3</tspan><tspan font-size="5.20" dy="-3.40">+/+</tspan><tspan dy="3.40">​</tspan></text>
<text x="0.00" y="0.00" font-size="9.6" text-anchor="end" font-style="italic" fill="#333" transform="translate(642.10,467.40) rotate(-44)"><tspan>Cul3</tspan><tspan font-size="5.20" dy="-3.40">+/-</tspan><tspan dy="3.40">​</tspan></text>
<text x="0.00" y="0.00" font-size="9.6" text-anchor="end" font-style="italic" fill="#333" transform="translate(653.70,467.40) rotate(-44)"><tspan>Cul3</tspan><tspan font-size="5.20" dy="-3.40">+/fl</tspan><tspan dy="3.40">​</tspan></text>
<text x="0.00" y="0.00" font-size="9.6" text-anchor="end" font-style="italic" fill="#333" transform="translate(672.20,464.40) rotate(-44)"><tspan>Cul3</tspan><tspan font-size="5.20" dy="-3.40">+/fl</tspan><tspan dy="3.40">​</tspan><tspan> Emx1-Cre</tspan></text>
<text x="0.00" y="0.00" font-size="9.6" text-anchor="end" font-style="italic" fill="#333" transform="translate(685.80,464.70) rotate(-44)"><tspan>Cul3</tspan><tspan font-size="5.20" dy="-3.40">fl/fl</tspan><tspan dy="3.40">​</tspan><tspan> Emx1-Cre</tspan></text>
<rect x="624.00" y="418.70" width="6.60" height="3.50" fill="#d4d4d4" stroke="#6e6e6e" stroke-width="1.6" />
<line x1="624.00" y1="420.50" x2="630.60" y2="420.50" stroke="#6e6e6e" stroke-width="1.6" />
<line x1="638.70" y1="370.20" x2="638.70" y2="377.20" stroke="#1f88b6" stroke-width="1.6" />
<line x1="636.39" y1="370.20" x2="641.01" y2="370.20" stroke="#1f88b6" stroke-width="1.6" />
<line x1="638.70" y1="393.60" x2="638.70" y2="399.50" stroke="#1f88b6" stroke-width="1.6" />
<line x1="636.39" y1="399.50" x2="641.01" y2="399.50" stroke="#1f88b6" stroke-width="1.6" />
<rect x="635.30" y="377.20" width="6.80" height="16.40" fill="#92c2f2" stroke="#1f88b6" stroke-width="1.6" />
<line x1="635.30" y1="384.50" x2="642.10" y2="384.50" stroke="#1f88b6" stroke-width="1.6" />
<line x1="650.60" y1="398.20" x2="650.60" y2="400.60" stroke="#6e6e6e" stroke-width="1.6" />
<line x1="648.40" y1="398.20" x2="652.80" y2="398.20" stroke="#6e6e6e" stroke-width="1.6" />
<rect x="647.40" y="400.60" width="6.40" height="30.50" fill="#d4d4d4" stroke="#6e6e6e" stroke-width="1.6" />
<line x1="647.40" y1="425.70" x2="653.80" y2="425.70" stroke="#6e6e6e" stroke-width="1.6" />
<rect x="659.10" y="393.60" width="6.60" height="16.60" fill="#bdf0d6" stroke="#26ab6c" stroke-width="1.6" />
<line x1="659.10" y1="402.00" x2="665.70" y2="402.00" stroke="#26ab6c" stroke-width="1.6" />
<rect x="670.60" y="349.40" width="6.60" height="19.00" fill="#b9b9f4" stroke="#1a1ad2" stroke-width="1.6" />
<line x1="670.60" y1="359.10" x2="677.20" y2="359.10" stroke="#1a1ad2" stroke-width="1.6" />
<line x1="650.70" y1="431.10" x2="675.30" y2="348.80" stroke="#d12b2b" stroke-width="1.6" stroke-dasharray="4 2.6"/>
<text x="645.20" y="451.50" font-size="8.5" fill="#d0343a"><tspan>R</tspan><tspan font-size="5.00" dy="-3.30">2</tspan><tspan dy="3.30">​</tspan><tspan>= 0.932</tspan></text>
<defs><filter id="bl" x="-20%" y="-400%" width="140%" height="900%"><feGaussianBlur stdDeviation="0.85"/></filter><filter id="bl2" x="-20%" y="-400%" width="140%" height="900%"><feGaussianBlur stdDeviation="1.3"/></filter><filter id="bl3" x="-20%" y="-400%" width="140%" height="900%"><feGaussianBlur stdDeviation="0.55"/></filter></defs>
<text x="7.20" y="518.70" font-size="16" font-weight="bold">i</text>
<rect x="34.90" y="550.20" width="130.50" height="19.40" fill="#f5f5f5" stroke="none" stroke-width="1" />
<rect x="34.90" y="573.70" width="130.50" height="19.40" fill="#f5f5f5" stroke="none" stroke-width="1" />
<rect x="34.90" y="597.20" width="130.50" height="19.20" fill="#f5f5f5" stroke="none" stroke-width="1" />
<rect x="34.90" y="620.50" width="130.50" height="19.50" fill="#f5f5f5" stroke="none" stroke-width="1" />
<clipPath id="cpi"><rect x="34.9" y="550.2" width="130.5" height="19.399999999999977"/><rect x="34.9" y="573.7" width="130.5" height="19.399999999999977"/><rect x="34.9" y="597.2" width="130.5" height="19.199999999999932"/><rect x="34.9" y="620.5" width="130.5" height="19.5"/></clipPath>
<g clip-path="url(#cpi)">
<rect x="38.30" y="557.00" width="12.40" height="2.80" rx="1.40" fill="#5e5e5e" opacity="1.0" filter="url(#bl)"/>
<rect x="38.10" y="561.10" width="12.80" height="3.60" rx="1.80" fill="#121212" opacity="1.0" filter="url(#bl)"/>
<rect x="51.05" y="557.00" width="12.40" height="2.80" rx="1.40" fill="#5e5e5e" opacity="1.0" filter="url(#bl)"/>
<rect x="50.85" y="561.10" width="12.80" height="3.60" rx="1.80" fill="#121212" opacity="1.0" filter="url(#bl)"/>
<rect x="63.80" y="557.00" width="12.40" height="2.80" rx="1.40" fill="#5e5e5e" opacity="1.0" filter="url(#bl)"/>
<rect x="63.60" y="561.10" width="12.80" height="3.60" rx="1.80" fill="#121212" opacity="1.0" filter="url(#bl)"/>
<rect x="76.55" y="557.00" width="12.40" height="2.80" rx="1.40" fill="#5e5e5e" opacity="1.0" filter="url(#bl)"/>
<rect x="76.35" y="561.10" width="12.80" height="3.60" rx="1.80" fill="#121212" opacity="1.0" filter="url(#bl)"/>
<rect x="89.30" y="557.00" width="12.40" height="2.80" rx="1.40" fill="#5e5e5e" opacity="1.0" filter="url(#bl)"/>
<rect x="89.10" y="561.10" width="12.80" height="3.60" rx="1.80" fill="#121212" opacity="1.0" filter="url(#bl)"/>
<rect x="102.75" y="556.50" width="11.00" height="2.20" rx="1.10" fill="#8c8c8c" opacity="1.0" filter="url(#bl)"/>
<rect x="102.75" y="561.10" width="11.00" height="1.80" rx="0.90" fill="#ababab" opacity="1.0" filter="url(#bl)"/>
<rect x="115.50" y="556.50" width="11.00" height="2.20" rx="1.10" fill="#8c8c8c" opacity="1.0" filter="url(#bl)"/>
<rect x="115.50" y="561.10" width="11.00" height="1.80" rx="0.90" fill="#ababab" opacity="1.0" filter="url(#bl)"/>
<rect x="128.25" y="556.50" width="11.00" height="2.20" rx="1.10" fill="#8c8c8c" opacity="1.0" filter="url(#bl)"/>
<rect x="128.25" y="561.10" width="11.00" height="1.80" rx="0.90" fill="#ababab" opacity="1.0" filter="url(#bl)"/>
<rect x="141.00" y="554.20" width="11.00" height="2.40" rx="1.20" fill="#8a8a8a" opacity="1.0" filter="url(#bl)"/>
<rect x="141.00" y="558.80" width="11.00" height="2.80" rx="1.40" fill="#666" opacity="1.0" filter="url(#bl)"/>
<rect x="153.75" y="554.20" width="11.00" height="2.40" rx="1.20" fill="#8a8a8a" opacity="1.0" filter="url(#bl)"/>
<rect x="153.75" y="558.80" width="11.00" height="2.80" rx="1.40" fill="#666" opacity="1.0" filter="url(#bl)"/>
<rect x="39.75" y="582.80" width="9.50" height="2.00" rx="1.00" fill="#9a9a9a" opacity="1.0" filter="url(#bl)"/>
<rect x="52.50" y="582.80" width="9.50" height="2.00" rx="1.00" fill="#a0a0a0" opacity="1.0" filter="url(#bl)"/>
<rect x="65.25" y="582.80" width="9.50" height="2.00" rx="1.00" fill="#a0a0a0" opacity="1.0" filter="url(#bl)"/>
<rect x="78.00" y="582.80" width="9.50" height="2.00" rx="1.00" fill="#a8a8a8" opacity="1.0" filter="url(#bl)"/>
<rect x="90.75" y="582.80" width="9.50" height="2.00" rx="1.00" fill="#b8b8b8" opacity="1.0" filter="url(#bl)"/>
<rect x="102.50" y="580.80" width="11.50" height="4.40" rx="2.20" fill="#8a8a8a" opacity="1.0" filter="url(#bl)"/>
<rect x="104.25" y="582.05" width="8.00" height="1.50" rx="0.75" fill="#f6f6f6" opacity="1.0" filter="url(#bl)"/>
<rect x="115.25" y="580.80" width="11.50" height="4.40" rx="2.20" fill="#8a8a8a" opacity="1.0" filter="url(#bl)"/>
<rect x="117.00" y="582.05" width="8.00" height="1.50" rx="0.75" fill="#f6f6f6" opacity="1.0" filter="url(#bl)"/>
<rect x="128.00" y="580.80" width="11.50" height="4.40" rx="2.20" fill="#8a8a8a" opacity="1.0" filter="url(#bl)"/>
<rect x="129.75" y="582.05" width="8.00" height="1.50" rx="0.75" fill="#f6f6f6" opacity="1.0" filter="url(#bl)"/>
<rect x="140.75" y="580.80" width="11.50" height="4.40" rx="2.20" fill="#8a8a8a" opacity="1.0" filter="url(#bl)"/>
<rect x="142.50" y="582.05" width="8.00" height="1.50" rx="0.75" fill="#f6f6f6" opacity="1.0" filter="url(#bl)"/>
<rect x="153.50" y="580.80" width="11.50" height="4.40" rx="2.20" fill="#8a8a8a" opacity="1.0" filter="url(#bl)"/>
<rect x="155.25" y="582.05" width="8.00" height="1.50" rx="0.75" fill="#f6f6f6" opacity="1.0" filter="url(#bl)"/>
<path d="M37.80,605.60 Q44.50,607.40 51.20,605.60" fill="none" stroke="#505050" stroke-width="3.00" stroke-linecap="round" opacity="1.0" filter="url(#bl)"/>
<path d="M50.55,606.20 Q57.25,608.00 63.95,606.20" fill="none" stroke="#5a5a5a" stroke-width="3.00" stroke-linecap="round" opacity="1.0" filter="url(#bl)"/>
<path d="M63.30,605.60 Q70.00,607.40 76.70,605.60" fill="none" stroke="#555" stroke-width="3.00" stroke-linecap="round" opacity="1.0" filter="url(#bl)"/>
<path d="M76.05,605.60 Q82.75,607.40 89.45,605.60" fill="none" stroke="#555" stroke-width="3.00" stroke-linecap="round" opacity="1.0" filter="url(#bl)"/>
<path d="M88.80,605.60 Q95.50,607.40 102.20,605.60" fill="none" stroke="#5a5a5a" stroke-width="3.00" stroke-linecap="round" opacity="1.0" filter="url(#bl)"/>
<path d="M101.55,605.60 Q108.25,607.40 114.95,605.60" fill="none" stroke="#303030" stroke-width="3.00" stroke-linecap="round" opacity="1.0" filter="url(#bl)"/>
<path d="M114.30,605.60 Q121.00,607.40 127.70,605.60" fill="none" stroke="#454545" stroke-width="3.00" stroke-linecap="round" opacity="1.0" filter="url(#bl)"/>
<path d="M127.05,605.60 Q133.75,607.40 140.45,605.60" fill="none" stroke="#353535" stroke-width="3.00" stroke-linecap="round" opacity="1.0" filter="url(#bl)"/>
<path d="M139.80,605.60 Q146.50,607.40 153.20,605.60" fill="none" stroke="#505050" stroke-width="3.00" stroke-linecap="round" opacity="1.0" filter="url(#bl)"/>
<path d="M152.55,606.20 Q159.25,608.00 165.95,606.20" fill="none" stroke="#505050" stroke-width="3.00" stroke-linecap="round" opacity="1.0" filter="url(#bl)"/>
<path d="M37.70,632.32 Q44.50,633.76 51.30,632.32" fill="none" stroke="#151515" stroke-width="4.60" stroke-linecap="round" opacity="1.0" filter="url(#bl)"/>
<path d="M50.45,632.12 Q57.25,633.56 64.05,632.12" fill="none" stroke="#151515" stroke-width="4.60" stroke-linecap="round" opacity="1.0" filter="url(#bl)"/>
<path d="M63.20,631.32 Q70.00,632.76 76.80,631.32" fill="none" stroke="#151515" stroke-width="4.60" stroke-linecap="round" opacity="1.0" filter="url(#bl)"/>
<path d="M75.95,630.32 Q82.75,631.76 89.55,630.32" fill="none" stroke="#151515" stroke-width="4.60" stroke-linecap="round" opacity="1.0" filter="url(#bl)"/>
<path d="M88.70,629.72 Q95.50,631.16 102.30,629.72" fill="none" stroke="#151515" stroke-width="4.60" stroke-linecap="round" opacity="1.0" filter="url(#bl)"/>
<path d="M101.45,629.52 Q108.25,630.96 115.05,629.52" fill="none" stroke="#151515" stroke-width="4.60" stroke-linecap="round" opacity="1.0" filter="url(#bl)"/>
<path d="M114.20,629.72 Q121.00,631.16 127.80,629.72" fill="none" stroke="#151515" stroke-width="4.60" stroke-linecap="round" opacity="1.0" filter="url(#bl)"/>
<path d="M126.95,630.12 Q133.75,631.56 140.55,630.12" fill="none" stroke="#151515" stroke-width="4.60" stroke-linecap="round" opacity="1.0" filter="url(#bl)"/>
<path d="M139.70,630.72 Q146.50,632.16 153.30,630.72" fill="none" stroke="#151515" stroke-width="4.60" stroke-linecap="round" opacity="1.0" filter="url(#bl)"/>
<path d="M152.45,631.52 Q159.25,632.96 166.05,631.52" fill="none" stroke="#151515" stroke-width="4.60" stroke-linecap="round" opacity="1.0" filter="url(#bl)"/>
</g>
<rect x="34.90" y="550.20" width="130.50" height="19.40" fill="none" stroke="#3a3a3a" stroke-width="1.1" />
<rect x="34.90" y="573.70" width="130.50" height="19.40" fill="none" stroke="#3a3a3a" stroke-width="1.1" />
<rect x="34.90" y="597.20" width="130.50" height="19.20" fill="none" stroke="#3a3a3a" stroke-width="1.1" />
<rect x="34.90" y="620.50" width="130.50" height="19.50" fill="none" stroke="#3a3a3a" stroke-width="1.1" />
<text x="31.90" y="563.80" font-size="10.7" text-anchor="end" fill="#111">Cul3</text>
<text x="31.90" y="589.00" font-size="10.7" text-anchor="end" fill="#111">Pls3</text>
<text x="31.90" y="612.40" font-size="10.7" text-anchor="end" fill="#111">INA</text>
<text x="31.90" y="633.70" font-size="10.7" text-anchor="end" fill="#111">Gapdh</text>
<text x="71.50" y="540.60" font-size="10.6" text-anchor="middle" font-style="italic" fill="#111"><tspan>Cul3</tspan><tspan font-size="5.80" dy="-3.90">+/+</tspan><tspan dy="3.90">​</tspan></text>
<text x="133.50" y="540.60" font-size="10.6" text-anchor="middle" font-style="italic" fill="#111"><tspan>Cul3</tspan><tspan font-size="5.80" dy="-3.90">+/-</tspan><tspan dy="3.90">​</tspan></text>
<line x1="38.00" y1="544.70" x2="100.10" y2="544.70" stroke="#111" stroke-width="1.3" />
<line x1="102.20" y1="544.70" x2="163.50" y2="544.70" stroke="#111" stroke-width="1.3" />
<text x="169.50" y="545.80" font-size="7.9" fill="#111">kDa</text>
<line x1="165.20" y1="552.20" x2="168.20" y2="552.20" stroke="#111" stroke-width="1.2" />
<text x="170.90" y="554.60" font-size="7.8" fill="#111">100</text>
<line x1="165.20" y1="578.10" x2="168.20" y2="578.10" stroke="#111" stroke-width="1.2" />
<text x="170.90" y="580.40" font-size="7.8" fill="#111">80</text>
<line x1="165.20" y1="612.90" x2="168.20" y2="612.90" stroke="#111" stroke-width="1.2" />
<text x="170.90" y="616.30" font-size="7.8" fill="#111">58</text>
<line x1="165.20" y1="636.40" x2="168.20" y2="636.40" stroke="#111" stroke-width="1.2" />
<text x="170.90" y="639.30" font-size="7.8" fill="#111">32</text>
<line x1="218.10" y1="530.40" x2="218.10" y2="642.80" stroke="#000" stroke-width="1.4" />
<line x1="213.90" y1="531.10" x2="218.10" y2="531.10" stroke="#000" stroke-width="1.3" />
<text x="212.20" y="533.70" font-size="9.5" text-anchor="end" fill="#1a1a1a" textLength="12.20" lengthAdjust="spacingAndGlyphs">2.5</text>
<line x1="213.90" y1="553.30" x2="218.10" y2="553.30" stroke="#000" stroke-width="1.3" />
<text x="212.20" y="555.90" font-size="9.5" text-anchor="end" fill="#1a1a1a" textLength="12.20" lengthAdjust="spacingAndGlyphs">2.0</text>
<line x1="213.90" y1="575.50" x2="218.10" y2="575.50" stroke="#000" stroke-width="1.3" />
<text x="212.20" y="578.10" font-size="9.5" text-anchor="end" fill="#1a1a1a" textLength="12.20" lengthAdjust="spacingAndGlyphs">1.5</text>
<line x1="213.90" y1="597.70" x2="218.10" y2="597.70" stroke="#000" stroke-width="1.3" />
<text x="212.20" y="600.30" font-size="9.5" text-anchor="end" fill="#1a1a1a" textLength="12.20" lengthAdjust="spacingAndGlyphs">1.0</text>
<line x1="213.90" y1="619.90" x2="218.10" y2="619.90" stroke="#000" stroke-width="1.3" />
<text x="212.20" y="622.50" font-size="9.5" text-anchor="end" fill="#1a1a1a" textLength="12.20" lengthAdjust="spacingAndGlyphs">0.5</text>
<line x1="213.90" y1="642.10" x2="218.10" y2="642.10" stroke="#000" stroke-width="1.3" />
<text x="212.20" y="644.70" font-size="9.5" text-anchor="end" fill="#1a1a1a" textLength="12.20" lengthAdjust="spacingAndGlyphs">0.0</text>
<line x1="217.40" y1="641.90" x2="332.00" y2="641.90" stroke="#000" stroke-width="1.5" />
<rect x="223.75" y="598.85" width="8.50" height="43.05" fill="#b4b4b4" stroke="#000" stroke-width="1.3" />
<rect x="238.45" y="621.65" width="8.50" height="20.25" fill="#2b7dc1" stroke="#000" stroke-width="1.3" />
<rect x="262.85" y="598.85" width="8.60" height="43.05" fill="#b4b4b4" stroke="#000" stroke-width="1.3" />
<rect x="277.75" y="554.95" width="8.40" height="86.95" fill="#2b7dc1" stroke="#000" stroke-width="1.3" />
<rect x="302.15" y="598.85" width="8.40" height="43.05" fill="#b4b4b4" stroke="#000" stroke-width="1.3" />
<rect x="316.95" y="577.05" width="8.20" height="64.85" fill="#2b7dc1" stroke="#000" stroke-width="1.3" />
<line x1="227.90" y1="595.60" x2="227.90" y2="598.20" stroke="#000" stroke-width="1.3" />
<line x1="225.90" y1="595.60" x2="229.90" y2="595.60" stroke="#000" stroke-width="1.3" />
<line x1="242.70" y1="617.50" x2="242.70" y2="621.00" stroke="#000" stroke-width="1.3" />
<line x1="240.70" y1="617.50" x2="244.70" y2="617.50" stroke="#000" stroke-width="1.3" />
<line x1="267.10" y1="592.70" x2="267.10" y2="598.20" stroke="#000" stroke-width="1.3" />
<line x1="265.10" y1="592.70" x2="269.10" y2="592.70" stroke="#000" stroke-width="1.3" />
<line x1="281.90" y1="549.60" x2="281.90" y2="554.30" stroke="#000" stroke-width="1.3" />
<line x1="279.40" y1="549.60" x2="284.40" y2="549.60" stroke="#000" stroke-width="1.3" />
<line x1="306.20" y1="592.70" x2="306.20" y2="598.20" stroke="#000" stroke-width="1.3" />
<line x1="304.20" y1="592.70" x2="308.20" y2="592.70" stroke="#000" stroke-width="1.3" />
<line x1="321.00" y1="567.50" x2="321.00" y2="576.40" stroke="#000" stroke-width="1.3" />
<line x1="318.50" y1="567.50" x2="323.50" y2="567.50" stroke="#000" stroke-width="1.3" />
<circle cx="227.90" cy="590.30" r="1.90" fill="#000" />
<circle cx="231.60" cy="594.00" r="1.90" fill="#000" />
<circle cx="224.20" cy="595.50" r="1.90" fill="#000" />
<circle cx="224.20" cy="605.10" r="1.90" fill="#000" />
<circle cx="231.60" cy="603.30" r="1.90" fill="#000" />
<circle cx="263.60" cy="587.60" r="1.90" fill="#000" />
<circle cx="270.80" cy="588.00" r="1.90" fill="#000" />
<circle cx="267.10" cy="595.00" r="1.90" fill="#000" />
<circle cx="267.10" cy="605.10" r="1.90" fill="#000" />
<circle cx="267.10" cy="614.70" r="1.90" fill="#000" />
<circle cx="306.20" cy="583.70" r="1.90" fill="#000" />
<circle cx="306.20" cy="594.20" r="1.90" fill="#000" />
<circle cx="302.50" cy="604.50" r="1.90" fill="#000" />
<circle cx="306.20" cy="602.60" r="1.90" fill="#000" />
<circle cx="309.90" cy="604.50" r="1.90" fill="#000" />
<polygon points="236.90,618.65 241.90,618.65 239.40,614.15" fill="#05051a" />
<polygon points="243.60,619.55 248.60,619.55 246.10,615.05" fill="#05051a" />
<polygon points="240.20,620.55 245.20,620.55 242.70,616.05" fill="#05051a" />
<polygon points="236.40,623.55 241.40,623.55 238.90,619.05" fill="#05051a" />
<polygon points="244.10,623.55 249.10,623.55 246.60,619.05" fill="#05051a" />
<polygon points="279.40,541.35 284.40,541.35 281.90,536.85" fill="#05051a" />
<polygon points="275.30,558.05 280.30,558.05 277.80,553.55" fill="#05051a" />
<polygon points="283.10,558.05 288.10,558.05 285.60,553.55" fill="#05051a" />
<polygon points="275.90,562.25 280.90,562.25 278.40,557.75" fill="#05051a" />
<polygon points="283.10,561.45 288.10,561.45 285.60,556.95" fill="#05051a" />
<polygon points="279.40,560.45 284.40,560.45 281.90,555.95" fill="#05051a" />
<polygon points="314.80,560.45 319.80,560.45 317.30,555.95" fill="#05051a" />
<polygon points="322.10,561.75 327.10,561.75 324.60,557.25" fill="#05051a" />
<polygon points="318.50,575.25 323.50,575.25 321.00,570.75" fill="#05051a" />
<polygon points="318.50,588.85 323.50,588.85 321.00,584.35" fill="#05051a" />
<polygon points="318.50,603.65 323.50,603.65 321.00,599.15" fill="#05051a" />
<polygon points="230.00,573.60 230.65,575.26 232.43,575.36 231.05,576.49 231.50,578.21 230.00,577.25 228.50,578.21 228.95,576.49 227.57,575.36 229.35,575.26" fill="#111" />
<polygon points="235.30,573.60 235.95,575.26 237.73,575.36 236.35,576.49 236.80,578.21 235.30,577.25 233.80,578.21 234.25,576.49 232.87,575.36 234.65,575.26" fill="#111" />
<polygon points="240.60,573.60 241.25,575.26 243.03,575.36 241.65,576.49 242.10,578.21 240.60,577.25 239.10,578.21 239.55,576.49 238.17,575.36 239.95,575.26" fill="#111" />
<line x1="226.10" y1="583.40" x2="245.00" y2="583.40" stroke="#000" stroke-width="1.3" />
<polygon points="268.80,522.60 269.45,524.26 271.23,524.36 269.85,525.49 270.30,527.21 268.80,526.25 267.30,527.21 267.75,525.49 266.37,524.36 268.15,524.26" fill="#111" />
<polygon points="274.10,522.60 274.75,524.26 276.53,524.36 275.15,525.49 275.60,527.21 274.10,526.25 272.60,527.21 273.05,525.49 271.67,524.36 273.45,524.26" fill="#111" />
<polygon points="279.40,522.60 280.05,524.26 281.83,524.36 280.45,525.49 280.90,527.21 279.40,526.25 277.90,527.21 278.35,525.49 276.97,524.36 278.75,524.26" fill="#111" />
<line x1="265.50" y1="532.20" x2="284.00" y2="532.20" stroke="#000" stroke-width="1.3" />
<polygon points="314.60,541.00 315.25,542.66 317.03,542.76 315.65,543.89 316.10,545.61 314.60,544.65 313.10,545.61 313.55,543.89 312.17,542.76 313.95,542.66" fill="#111" />
<line x1="305.50" y1="550.60" x2="324.00" y2="550.60" stroke="#000" stroke-width="1.3" />
<circle cx="225.90" cy="524.60" r="2.70" fill="#000" />
<text x="232.60" y="527.80" font-size="10.5" font-style="italic" fill="#111"><tspan>Cul3</tspan><tspan font-size="6.00" dy="-3.90">+/+</tspan><tspan dy="3.90">​</tspan></text>
<polygon points="222.60,539.97 229.20,539.97 225.90,534.03" fill="#000" />
<text x="232.60" y="540.50" font-size="10.5" font-style="italic" fill="#111"><tspan>Cul3</tspan><tspan font-size="6.00" dy="-3.90">+/-</tspan><tspan dy="3.90">​</tspan></text>
<text x="235.00" y="656.00" font-size="13.0" text-anchor="middle" fill="#111">Cul3</text>
<text x="274.30" y="656.00" font-size="13.0" text-anchor="middle" fill="#111">Pls3</text>
<text x="313.70" y="656.00" font-size="13.0" text-anchor="middle" fill="#111">INA</text>
<text x="0.00" y="0.00" font-size="10.9" text-anchor="middle" fill="#111" transform="translate(195.6,589.0) rotate(-90)">Norm. intensity</text>
<text x="340.40" y="518.40" font-size="16" font-weight="bold">j</text>
<rect x="381.20" y="532.10" width="109.80" height="19.80" fill="#f5f5f5" stroke="none" stroke-width="1" />
<rect x="381.20" y="554.60" width="109.80" height="19.00" fill="#f5f5f5" stroke="none" stroke-width="1" />
<rect x="381.20" y="576.50" width="109.80" height="20.00" fill="#f5f5f5" stroke="none" stroke-width="1" />
<rect x="381.20" y="598.60" width="109.80" height="19.20" fill="#f5f5f5" stroke="none" stroke-width="1" />
<rect x="381.20" y="621.20" width="109.80" height="19.30" fill="#f5f5f5" stroke="none" stroke-width="1" />
<clipPath id="cpj"><rect x="381.2" y="532.1" width="109.80000000000001" height="19.799999999999955"/><rect x="381.2" y="554.6" width="109.80000000000001" height="19.0"/><rect x="381.2" y="576.5" width="109.80000000000001" height="20.0"/><rect x="381.2" y="598.6" width="109.80000000000001" height="19.199999999999932"/><rect x="381.2" y="621.2" width="109.80000000000001" height="19.299999999999955"/></clipPath>
<g clip-path="url(#cpj)">
<rect x="383.75" y="540.90" width="14.50" height="5.00" rx="2.50" fill="#4a4a4a" opacity="0.5" filter="url(#bl2)"/>
<rect x="384.00" y="541.20" width="14.00" height="3.80" rx="1.90" fill="#000" opacity="1.0" filter="url(#bl3)"/>
<rect x="384.00" y="564.50" width="14.00" height="2.20" rx="1.10" fill="#c4c4c4" opacity="1.0" filter="url(#bl)"/>
<rect x="383.50" y="586.10" width="15.00" height="3.60" rx="1.80" fill="#8c8c8c" opacity="1.0" filter="url(#bl)"/>
<rect x="401.55" y="540.90" width="14.50" height="5.00" rx="2.50" fill="#4a4a4a" opacity="0.5" filter="url(#bl2)"/>
<rect x="401.80" y="541.20" width="14.00" height="3.80" rx="1.90" fill="#1a1a1a" opacity="1.0" filter="url(#bl3)"/>
<rect x="401.80" y="564.50" width="14.00" height="2.20" rx="1.10" fill="#c4c4c4" opacity="1.0" filter="url(#bl)"/>
<rect x="401.30" y="586.10" width="15.00" height="3.60" rx="1.80" fill="#8c8c8c" opacity="1.0" filter="url(#bl)"/>
<rect x="419.55" y="540.90" width="14.50" height="5.00" rx="2.50" fill="#4a4a4a" opacity="0.5" filter="url(#bl2)"/>
<rect x="419.80" y="541.20" width="14.00" height="3.80" rx="1.90" fill="#000" opacity="1.0" filter="url(#bl3)"/>
<rect x="419.80" y="564.50" width="14.00" height="2.20" rx="1.10" fill="#c4c4c4" opacity="1.0" filter="url(#bl)"/>
<rect x="419.30" y="586.10" width="15.00" height="3.60" rx="1.80" fill="#9c9c9c" opacity="1.0" filter="url(#bl)"/>
<rect x="439.80" y="540.30" width="13.00" height="2.20" rx="1.10" fill="#d8d8d8" opacity="1.0" filter="url(#bl)"/>
<rect x="438.55" y="562.10" width="15.50" height="3.40" rx="1.70" fill="#3a3a3a" opacity="1.0" filter="url(#bl3)"/>
<rect x="438.30" y="582.20" width="16.00" height="5.60" rx="2.80" fill="#000" opacity="1.0" filter="url(#bl3)"/>
<rect x="438.30" y="586.50" width="16.00" height="3.00" rx="1.50" fill="#3a3a3a" opacity="0.6" filter="url(#bl)"/>
<rect x="457.90" y="540.30" width="13.00" height="2.20" rx="1.10" fill="#d8d8d8" opacity="1.0" filter="url(#bl)"/>
<rect x="456.65" y="562.10" width="15.50" height="3.40" rx="1.70" fill="#0a0a0a" opacity="1.0" filter="url(#bl3)"/>
<rect x="456.40" y="582.20" width="16.00" height="5.60" rx="2.80" fill="#1a1a1a" opacity="1.0" filter="url(#bl3)"/>
<rect x="456.40" y="586.50" width="16.00" height="3.00" rx="1.50" fill="#3a3a3a" opacity="0.6" filter="url(#bl)"/>
<rect x="475.60" y="540.30" width="13.00" height="2.20" rx="1.10" fill="#d8d8d8" opacity="1.0" filter="url(#bl)"/>
<rect x="474.35" y="562.10" width="15.50" height="3.40" rx="1.70" fill="#0a0a0a" opacity="1.0" filter="url(#bl3)"/>
<rect x="474.10" y="582.20" width="16.00" height="5.60" rx="2.80" fill="#1a1a1a" opacity="1.0" filter="url(#bl3)"/>
<rect x="474.10" y="586.50" width="16.00" height="3.00" rx="1.50" fill="#3a3a3a" opacity="0.6" filter="url(#bl)"/>
<path d="M382.50,607.84 Q391.00,610.72 399.50,607.84" fill="none" stroke="#9a9a9a" stroke-width="4.00" stroke-linecap="round" opacity="0.6" filter="url(#bl2)"/>
<path d="M382.75,608.04 Q391.00,610.92 399.25,608.04" fill="none" stroke="#262626" stroke-width="2.20" stroke-linecap="round" opacity="1.0" filter="url(#bl3)"/>
<path d="M382.50,629.20 Q391.00,631.00 399.50,629.20" fill="none" stroke="#6a6a6a" stroke-width="3.60" stroke-linecap="round" opacity="1.0" filter="url(#bl)"/>
<path d="M400.30,607.84 Q408.80,610.72 417.30,607.84" fill="none" stroke="#9a9a9a" stroke-width="4.00" stroke-linecap="round" opacity="0.6" filter="url(#bl2)"/>
<path d="M400.55,608.04 Q408.80,610.92 417.05,608.04" fill="none" stroke="#2a2a2a" stroke-width="2.20" stroke-linecap="round" opacity="1.0" filter="url(#bl3)"/>
<path d="M400.30,629.20 Q408.80,631.00 417.30,629.20" fill="none" stroke="#7a7a7a" stroke-width="3.60" stroke-linecap="round" opacity="1.0" filter="url(#bl)"/>
<path d="M418.30,607.84 Q426.80,610.72 435.30,607.84" fill="none" stroke="#9a9a9a" stroke-width="4.00" stroke-linecap="round" opacity="0.6" filter="url(#bl2)"/>
<path d="M418.55,608.04 Q426.80,610.92 435.05,608.04" fill="none" stroke="#303030" stroke-width="2.20" stroke-linecap="round" opacity="1.0" filter="url(#bl3)"/>
<path d="M418.30,629.20 Q426.80,631.00 435.30,629.20" fill="none" stroke="#8c8c8c" stroke-width="3.60" stroke-linecap="round" opacity="1.0" filter="url(#bl)"/>
<path d="M437.80,607.84 Q446.30,610.72 454.80,607.84" fill="none" stroke="#9a9a9a" stroke-width="4.00" stroke-linecap="round" opacity="0.6" filter="url(#bl2)"/>
<path d="M438.05,608.04 Q446.30,610.92 454.55,608.04" fill="none" stroke="#222" stroke-width="2.20" stroke-linecap="round" opacity="1.0" filter="url(#bl3)"/>
<path d="M437.80,629.20 Q446.30,631.00 454.80,629.20" fill="none" stroke="#6a6a6a" stroke-width="3.60" stroke-linecap="round" opacity="1.0" filter="url(#bl)"/>
<path d="M455.90,607.84 Q464.40,610.72 472.90,607.84" fill="none" stroke="#9a9a9a" stroke-width="4.00" stroke-linecap="round" opacity="0.6" filter="url(#bl2)"/>
<path d="M456.15,608.04 Q464.40,610.92 472.65,608.04" fill="none" stroke="#262626" stroke-width="2.20" stroke-linecap="round" opacity="1.0" filter="url(#bl3)"/>
<path d="M455.90,629.20 Q464.40,631.00 472.90,629.20" fill="none" stroke="#7c7c7c" stroke-width="3.60" stroke-linecap="round" opacity="1.0" filter="url(#bl)"/>
<path d="M473.60,607.84 Q482.10,610.72 490.60,607.84" fill="none" stroke="#9a9a9a" stroke-width="4.00" stroke-linecap="round" opacity="0.6" filter="url(#bl2)"/>
<path d="M473.85,608.04 Q482.10,610.92 490.35,608.04" fill="none" stroke="#1a1a1a" stroke-width="2.20" stroke-linecap="round" opacity="1.0" filter="url(#bl3)"/>
<path d="M473.60,629.20 Q482.10,631.00 490.60,629.20" fill="none" stroke="#7c7c7c" stroke-width="3.60" stroke-linecap="round" opacity="1.0" filter="url(#bl)"/>
</g>
<rect x="381.20" y="532.10" width="109.80" height="19.80" fill="none" stroke="#3a3a3a" stroke-width="1.1" />
<rect x="381.20" y="554.60" width="109.80" height="19.00" fill="none" stroke="#3a3a3a" stroke-width="1.1" />
<rect x="381.20" y="576.50" width="109.80" height="20.00" fill="none" stroke="#3a3a3a" stroke-width="1.1" />
<rect x="381.20" y="598.60" width="109.80" height="19.20" fill="none" stroke="#3a3a3a" stroke-width="1.1" />
<rect x="381.20" y="621.20" width="109.80" height="19.30" fill="none" stroke="#3a3a3a" stroke-width="1.1" />
<line x1="436.40" y1="532.10" x2="436.40" y2="640.50" stroke="#111" stroke-width="1.0" stroke-dasharray="3 2"/>
<text x="378.50" y="548.80" font-size="10.7" text-anchor="end" fill="#111">Cul3</text>
<text x="378.50" y="568.80" font-size="10.7" text-anchor="end" fill="#111">Nisch</text>
<text x="378.50" y="589.30" font-size="10.7" text-anchor="end" fill="#111">Pls3</text>
<text x="378.50" y="611.00" font-size="10.7" text-anchor="end" fill="#111">INA</text>
<text x="378.50" y="633.70" font-size="10.7" text-anchor="end" fill="#111">Gapdh</text>
<text x="409.60" y="525.30" font-size="10.5" text-anchor="middle" font-style="italic" fill="#111">+/fl</text>
<text x="465.00" y="525.30" font-size="10.5" text-anchor="middle" font-style="italic" fill="#111">fl/fl Emx1-Cre</text>
<line x1="384.40" y1="528.00" x2="434.20" y2="528.00" stroke="#111" stroke-width="1.3" />
<line x1="440.40" y1="528.00" x2="488.70" y2="528.00" stroke="#111" stroke-width="1.3" />
<text x="495.90" y="532.40" font-size="7.9" fill="#111">kDa</text>
<line x1="491.00" y1="538.00" x2="494.60" y2="538.00" stroke="#111" stroke-width="1.2" />
<text x="495.60" y="540.50" font-size="8.2" fill="#111">100</text>
<line x1="491.00" y1="562.30" x2="494.60" y2="562.30" stroke="#111" stroke-width="1.2" />
<text x="495.60" y="564.20" font-size="8.2" fill="#111">190</text>
<line x1="491.00" y1="582.80" x2="494.60" y2="582.80" stroke="#111" stroke-width="1.2" />
<text x="495.60" y="585.00" font-size="8.2" fill="#111">80</text>
<line x1="491.00" y1="613.80" x2="494.60" y2="613.80" stroke="#111" stroke-width="1.2" />
<text x="495.60" y="616.80" font-size="8.2" fill="#111">58</text>
<line x1="491.00" y1="639.00" x2="494.60" y2="639.00" stroke="#111" stroke-width="1.2" />
<text x="495.60" y="640.90" font-size="8.2" fill="#111">32</text>
<line x1="546.90" y1="543.10" x2="546.90" y2="642.50" stroke="#000" stroke-width="1.4" />
<line x1="543.50" y1="543.80" x2="546.90" y2="543.80" stroke="#000" stroke-width="1.3" />
<text x="542.20" y="546.20" font-size="9.2" text-anchor="end" fill="#1a1a1a" textLength="12.10" lengthAdjust="spacingAndGlyphs">2.5</text>
<line x1="543.50" y1="563.40" x2="546.90" y2="563.40" stroke="#000" stroke-width="1.3" />
<text x="542.20" y="565.80" font-size="9.2" text-anchor="end" fill="#1a1a1a" textLength="12.10" lengthAdjust="spacingAndGlyphs">2.0</text>
<line x1="543.50" y1="583.00" x2="546.90" y2="583.00" stroke="#000" stroke-width="1.3" />
<text x="542.20" y="585.40" font-size="9.2" text-anchor="end" fill="#1a1a1a" textLength="12.10" lengthAdjust="spacingAndGlyphs">1.5</text>
<line x1="543.50" y1="602.60" x2="546.90" y2="602.60" stroke="#000" stroke-width="1.3" />
<text x="542.20" y="605.00" font-size="9.2" text-anchor="end" fill="#1a1a1a" textLength="12.10" lengthAdjust="spacingAndGlyphs">1.0</text>
<line x1="543.50" y1="622.20" x2="546.90" y2="622.20" stroke="#000" stroke-width="1.3" />
<text x="542.20" y="624.60" font-size="9.2" text-anchor="end" fill="#1a1a1a" textLength="12.10" lengthAdjust="spacingAndGlyphs">0.5</text>
<line x1="543.50" y1="641.80" x2="546.90" y2="641.80" stroke="#000" stroke-width="1.3" />
<text x="542.20" y="644.20" font-size="9.2" text-anchor="end" fill="#1a1a1a" textLength="12.10" lengthAdjust="spacingAndGlyphs">0.0</text>
<line x1="545.60" y1="642.10" x2="679.70" y2="642.10" stroke="#000" stroke-width="1.5" />
<rect x="555.75" y="603.25" width="7.20" height="38.85" fill="#b4b4b4" stroke="#000" stroke-width="1.3" />
<rect x="589.25" y="603.25" width="6.90" height="38.85" fill="#b4b4b4" stroke="#000" stroke-width="1.3" />
<rect x="621.55" y="603.25" width="7.10" height="38.85" fill="#b4b4b4" stroke="#000" stroke-width="1.3" />
<rect x="653.75" y="603.25" width="6.90" height="38.85" fill="#b4b4b4" stroke="#000" stroke-width="1.3" />
<rect x="567.20" y="631.20" width="7.00" height="10.90" fill="#243a8a" stroke="#3a0a12" stroke-width="1.2" />
<rect x="600.40" y="577.00" width="7.50" height="65.10" fill="#243a8a" stroke="#3a0a12" stroke-width="1.2" />
<rect x="633.00" y="595.00" width="7.20" height="47.10" fill="#243a8a" stroke="#3a0a12" stroke-width="1.2" />
<rect x="665.00" y="564.60" width="7.20" height="77.50" fill="#243a8a" stroke="#3a0a12" stroke-width="1.2" />
<line x1="559.30" y1="599.00" x2="559.30" y2="602.60" stroke="#000" stroke-width="1.3" />
<line x1="557.50" y1="599.00" x2="561.10" y2="599.00" stroke="#000" stroke-width="1.3" />
<line x1="604.10" y1="569.70" x2="604.10" y2="583.80" stroke="#000" stroke-width="1.3" />
<line x1="602.00" y1="569.70" x2="606.20" y2="569.70" stroke="#000" stroke-width="1.3" />
<line x1="602.00" y1="583.80" x2="606.20" y2="583.80" stroke="#000" stroke-width="1.2" />
<line x1="636.60" y1="590.60" x2="636.60" y2="597.00" stroke="#000" stroke-width="1.3" />
<line x1="634.50" y1="590.60" x2="638.70" y2="590.60" stroke="#000" stroke-width="1.3" />
<line x1="634.50" y1="597.00" x2="638.70" y2="597.00" stroke="#000" stroke-width="1.2" />
<line x1="668.60" y1="560.40" x2="668.60" y2="567.20" stroke="#000" stroke-width="1.3" />
<line x1="666.50" y1="560.40" x2="670.70" y2="560.40" stroke="#000" stroke-width="1.3" />
<line x1="666.50" y1="567.20" x2="670.70" y2="567.20" stroke="#000" stroke-width="1.2" />
<line x1="625.10" y1="598.00" x2="625.10" y2="602.60" stroke="#000" stroke-width="1.3" />
<line x1="623.30" y1="598.00" x2="626.90" y2="598.00" stroke="#000" stroke-width="1.3" />
<line x1="657.20" y1="599.50" x2="657.20" y2="603.30" stroke="#000" stroke-width="1.3" />
<line x1="655.40" y1="599.50" x2="659.00" y2="599.50" stroke="#000" stroke-width="1.3" />
<circle cx="559.00" cy="593.20" r="1.90" fill="#000" />
<circle cx="555.30" cy="599.50" r="1.90" fill="#000" />
<circle cx="560.00" cy="602.10" r="1.90" fill="#000" />
<circle cx="562.70" cy="608.90" r="1.90" fill="#000" />
<circle cx="556.90" cy="610.00" r="1.90" fill="#000" />
<circle cx="558.50" cy="605.30" r="1.90" fill="#000" />
<circle cx="590.90" cy="599.50" r="1.90" fill="#000" />
<circle cx="594.10" cy="601.10" r="1.90" fill="#000" />
<circle cx="592.50" cy="604.20" r="1.90" fill="#000" />
<circle cx="590.90" cy="602.70" r="1.90" fill="#000" />
<circle cx="594.60" cy="603.70" r="1.90" fill="#000" />
<circle cx="592.80" cy="600.50" r="1.90" fill="#000" />
<circle cx="622.50" cy="596.00" r="1.90" fill="#000" />
<circle cx="627.70" cy="595.50" r="1.90" fill="#000" />
<circle cx="624.00" cy="599.20" r="1.90" fill="#000" />
<circle cx="628.80" cy="607.00" r="1.90" fill="#000" />
<circle cx="622.50" cy="610.70" r="1.90" fill="#000" />
<circle cx="625.50" cy="603.50" r="1.90" fill="#000" />
<circle cx="654.40" cy="595.00" r="1.90" fill="#000" />
<circle cx="659.10" cy="599.70" r="1.90" fill="#000" />
<circle cx="657.10" cy="603.30" r="1.90" fill="#000" />
<circle cx="658.10" cy="607.50" r="1.90" fill="#000" />
<circle cx="655.00" cy="604.50" r="1.90" fill="#000" />
<polygon points="568.10,627.35 573.10,627.35 570.60,631.85" fill="#3a0a12" />
<polygon points="566.10,628.35 571.10,628.35 568.60,632.85" fill="#3a0a12" />
<polygon points="570.10,628.35 575.10,628.35 572.60,632.85" fill="#3a0a12" />
<polygon points="598.40,565.35 603.40,565.35 600.90,569.85" fill="#3a0a12" />
<polygon points="603.60,566.35 608.60,566.35 606.10,570.85" fill="#3a0a12" />
<polygon points="601.50,588.85 606.50,588.85 604.00,593.35" fill="#3a0a12" />
<polygon points="634.10,583.85 639.10,583.85 636.60,588.35" fill="#3a0a12" />
<polygon points="632.00,595.85 637.00,595.85 634.50,600.35" fill="#3a0a12" />
<polygon points="637.30,594.25 642.30,594.25 639.80,598.75" fill="#3a0a12" />
<polygon points="663.50,556.05 668.50,556.05 666.00,560.55" fill="#3a0a12" />
<polygon points="668.70,558.65 673.70,558.65 671.20,563.15" fill="#3a0a12" />
<polygon points="666.10,569.65 671.10,569.65 668.60,574.15" fill="#3a0a12" />
<polygon points="560.30,572.60 560.95,574.26 562.73,574.36 561.35,575.49 561.80,577.21 560.30,576.25 558.80,577.21 559.25,575.49 557.87,574.36 559.65,574.26" fill="#111" />
<polygon points="565.60,572.60 566.25,574.26 568.03,574.36 566.65,575.49 567.10,577.21 565.60,576.25 564.10,577.21 564.55,575.49 563.17,574.36 564.95,574.26" fill="#111" />
<polygon points="570.90,572.60 571.55,574.26 573.33,574.36 571.95,575.49 572.40,577.21 570.90,576.25 569.40,577.21 569.85,575.49 568.47,574.36 570.25,574.26" fill="#111" />
<line x1="555.90" y1="582.40" x2="574.20" y2="582.40" stroke="#000" stroke-width="1.3" />
<polygon points="595.15,545.80 595.80,547.46 597.58,547.56 596.20,548.69 596.65,550.41 595.15,549.45 593.65,550.41 594.10,548.69 592.72,547.56 594.50,547.46" fill="#111" />
<polygon points="600.45,545.80 601.10,547.46 602.88,547.56 601.50,548.69 601.95,550.41 600.45,549.45 598.95,550.41 599.40,548.69 598.02,547.56 599.80,547.46" fill="#111" />
<line x1="588.90" y1="555.60" x2="606.70" y2="555.60" stroke="#000" stroke-width="1.3" />
<text x="617.80" y="574.50" font-size="8.0" fill="#1a1a1a">p=0.07</text>
<line x1="622.20" y1="578.40" x2="640.10" y2="578.40" stroke="#000" stroke-width="1.3" />
<polygon points="659.30,537.10 659.95,538.76 661.73,538.86 660.35,539.99 660.80,541.71 659.30,540.75 657.80,541.71 658.25,539.99 656.87,538.86 658.65,538.76" fill="#111" />
<polygon points="664.60,537.10 665.25,538.76 667.03,538.86 665.65,539.99 666.10,541.71 664.60,540.75 663.10,541.71 663.55,539.99 662.17,538.86 663.95,538.76" fill="#111" />
<polygon points="669.90,537.10 670.55,538.76 672.33,538.86 670.95,539.99 671.40,541.71 669.90,540.75 668.40,541.71 668.85,539.99 667.47,538.86 669.25,538.76" fill="#111" />
<line x1="655.00" y1="547.60" x2="673.00" y2="547.60" stroke="#000" stroke-width="1.3" />
<circle cx="555.60" cy="524.70" r="2.70" fill="#000" />
<text x="561.90" y="528.60" font-size="10.5" font-style="italic" fill="#111"><tspan>Cul3</tspan><tspan font-size="6.00" dy="-3.90">+/fl</tspan><tspan dy="3.90">​</tspan></text>
<polygon points="552.60,533.24 559.40,533.24 556.00,539.36" fill="#3a0a12" />
<text x="561.90" y="540.70" font-size="10.5" font-style="italic" fill="#111"><tspan>Cul3</tspan><tspan font-size="6.00" dy="-3.90">fl/fl</tspan><tspan dy="3.90">​</tspan><tspan> Emx1-Cre</tspan></text>
<text x="564.80" y="655.80" font-size="13.2" text-anchor="middle" fill="#111">Cul3</text>
<text x="599.20" y="655.80" font-size="13.2" text-anchor="middle" fill="#111">Nisch</text>
<text x="631.20" y="655.80" font-size="13.2" text-anchor="middle" fill="#111">INA</text>
<text x="664.20" y="655.80" font-size="13.2" text-anchor="middle" fill="#111">Pls3</text>
<text x="0.00" y="0.00" font-size="10.9" text-anchor="middle" fill="#111" transform="translate(525.6,589.5) rotate(-90)">Norm. intensity</text>
<text x="7.40" y="674.60" font-size="16" font-weight="bold">k</text>
<line x1="34.60" y1="695.10" x2="34.60" y2="798.30" stroke="#000" stroke-width="1.4" />
<line x1="30.30" y1="695.80" x2="34.60" y2="695.80" stroke="#000" stroke-width="1.3" />
<text x="29.60" y="698.80" font-size="8.8" text-anchor="end" fill="#1a1a1a" textLength="13.00" lengthAdjust="spacingAndGlyphs">2.0</text>
<line x1="30.30" y1="721.25" x2="34.60" y2="721.25" stroke="#000" stroke-width="1.3" />
<text x="29.60" y="724.25" font-size="8.8" text-anchor="end" fill="#1a1a1a" textLength="13.00" lengthAdjust="spacingAndGlyphs">1.5</text>
<line x1="30.30" y1="746.70" x2="34.60" y2="746.70" stroke="#000" stroke-width="1.3" />
<text x="29.60" y="749.70" font-size="8.8" text-anchor="end" fill="#1a1a1a" textLength="13.00" lengthAdjust="spacingAndGlyphs">1.0</text>
<line x1="30.30" y1="772.15" x2="34.60" y2="772.15" stroke="#000" stroke-width="1.3" />
<text x="29.60" y="775.15" font-size="8.8" text-anchor="end" fill="#1a1a1a" textLength="13.00" lengthAdjust="spacingAndGlyphs">0.5</text>
<line x1="30.30" y1="797.60" x2="34.60" y2="797.60" stroke="#000" stroke-width="1.3" />
<text x="29.60" y="800.60" font-size="8.8" text-anchor="end" fill="#1a1a1a" textLength="13.00" lengthAdjust="spacingAndGlyphs">0.0</text>
<line x1="33.90" y1="797.50" x2="201.80" y2="797.50" stroke="#000" stroke-width="1.5" />
<rect x="42.80" y="747.10" width="10.50" height="50.40" fill="#b4b4b4" stroke="#111" stroke-width="1.2" />
<rect x="85.20" y="747.10" width="10.60" height="50.40" fill="#b4b4b4" stroke="#111" stroke-width="1.2" />
<rect x="128.00" y="747.10" width="10.60" height="50.40" fill="#b4b4b4" stroke="#111" stroke-width="1.2" />
<rect x="170.90" y="747.10" width="10.20" height="50.40" fill="#b4b4b4" stroke="#111" stroke-width="1.2" />
<rect x="58.90" y="764.50" width="9.90" height="33.00" fill="#2b7dc1" stroke="#111" stroke-width="1.2" />
<rect x="102.20" y="773.80" width="9.80" height="23.70" fill="#2b7dc1" stroke="#111" stroke-width="1.2" />
<rect x="144.20" y="754.20" width="10.30" height="43.30" fill="#2b7dc1" stroke="#111" stroke-width="1.2" />
<rect x="187.20" y="744.00" width="10.00" height="53.50" fill="#2b7dc1" stroke="#111" stroke-width="1.2" />
<line x1="47.80" y1="739.50" x2="47.80" y2="754.30" stroke="#000" stroke-width="1.2" />
<line x1="46.00" y1="739.50" x2="49.60" y2="739.50" stroke="#000" stroke-width="1.2" />
<line x1="46.00" y1="754.30" x2="49.60" y2="754.30" stroke="#000" stroke-width="1.2" />
<line x1="63.80" y1="756.50" x2="63.80" y2="771.70" stroke="#000" stroke-width="1.2" />
<line x1="62.00" y1="756.50" x2="65.60" y2="756.50" stroke="#000" stroke-width="1.2" />
<line x1="62.00" y1="771.70" x2="65.60" y2="771.70" stroke="#000" stroke-width="1.2" />
<line x1="90.50" y1="737.80" x2="90.50" y2="755.00" stroke="#000" stroke-width="1.2" />
<line x1="88.70" y1="737.80" x2="92.30" y2="737.80" stroke="#000" stroke-width="1.2" />
<line x1="88.70" y1="755.00" x2="92.30" y2="755.00" stroke="#000" stroke-width="1.2" />
<line x1="106.70" y1="771.00" x2="106.70" y2="775.50" stroke="#000" stroke-width="1.2" />
<line x1="104.90" y1="771.00" x2="108.50" y2="771.00" stroke="#000" stroke-width="1.2" />
<line x1="104.90" y1="775.50" x2="108.50" y2="775.50" stroke="#000" stroke-width="1.2" />
<line x1="133.40" y1="734.70" x2="133.40" y2="756.50" stroke="#000" stroke-width="1.2" />
<line x1="131.60" y1="734.70" x2="135.20" y2="734.70" stroke="#000" stroke-width="1.2" />
<line x1="131.60" y1="756.50" x2="135.20" y2="756.50" stroke="#000" stroke-width="1.2" />
<line x1="149.40" y1="747.80" x2="149.40" y2="764.50" stroke="#000" stroke-width="1.2" />
<line x1="147.60" y1="747.80" x2="151.20" y2="747.80" stroke="#000" stroke-width="1.2" />
<line x1="147.60" y1="764.50" x2="151.20" y2="764.50" stroke="#000" stroke-width="1.2" />
<line x1="176.20" y1="739.70" x2="176.20" y2="754.30" stroke="#000" stroke-width="1.2" />
<line x1="174.40" y1="739.70" x2="178.00" y2="739.70" stroke="#000" stroke-width="1.2" />
<line x1="174.40" y1="754.30" x2="178.00" y2="754.30" stroke="#000" stroke-width="1.2" />
<line x1="192.30" y1="740.00" x2="192.30" y2="745.90" stroke="#000" stroke-width="1.2" />
<line x1="190.50" y1="740.00" x2="194.10" y2="740.00" stroke="#000" stroke-width="1.2" />
<line x1="190.50" y1="745.90" x2="194.10" y2="745.90" stroke="#000" stroke-width="1.2" />
<circle cx="47.80" cy="719.20" r="2.30" fill="#000" />
<circle cx="47.80" cy="742.80" r="2.30" fill="#000" />
<circle cx="47.80" cy="750.60" r="2.30" fill="#000" />
<circle cx="50.50" cy="758.30" r="2.30" fill="#000" />
<circle cx="44.90" cy="763.00" r="2.30" fill="#000" />
<circle cx="90.50" cy="713.40" r="2.30" fill="#000" />
<circle cx="93.30" cy="747.80" r="2.30" fill="#000" />
<circle cx="88.40" cy="750.90" r="2.30" fill="#000" />
<circle cx="90.80" cy="754.00" r="2.30" fill="#000" />
<circle cx="90.50" cy="766.80" r="2.30" fill="#000" />
<circle cx="133.40" cy="709.70" r="2.30" fill="#000" />
<circle cx="133.40" cy="730.80" r="2.30" fill="#000" />
<circle cx="130.50" cy="755.60" r="2.30" fill="#000" />
<circle cx="136.10" cy="758.90" r="2.30" fill="#000" />
<circle cx="133.40" cy="779.20" r="2.30" fill="#000" />
<circle cx="176.20" cy="726.10" r="2.30" fill="#000" />
<circle cx="176.20" cy="735.70" r="2.30" fill="#000" />
<circle cx="176.20" cy="744.00" r="2.30" fill="#000" />
<circle cx="176.20" cy="759.30" r="2.30" fill="#000" />
<circle cx="176.20" cy="768.60" r="2.30" fill="#000" />
<polygon points="61.10,739.03 66.50,739.03 63.80,734.17" fill="#000" />
<polygon points="58.40,763.83 63.80,763.83 61.10,758.97" fill="#000" />
<polygon points="63.90,766.33 69.30,766.33 66.60,761.47" fill="#000" />
<polygon points="63.90,779.33 69.30,779.33 66.60,774.47" fill="#000" />
<polygon points="58.40,783.73 63.80,783.73 61.10,778.87" fill="#000" />
<polygon points="104.00,769.43 109.40,769.43 106.70,764.57" fill="#000" />
<polygon points="101.80,772.53 107.20,772.53 104.50,767.67" fill="#000" />
<polygon points="106.10,771.33 111.50,771.33 108.80,766.47" fill="#000" />
<polygon points="103.60,776.93 109.00,776.93 106.30,772.07" fill="#000" />
<polygon points="103.60,787.43 109.00,787.43 106.30,782.57" fill="#000" />
<polygon points="146.70,735.93 152.10,735.93 149.40,731.07" fill="#000" />
<polygon points="149.80,749.63 155.20,749.63 152.50,744.77" fill="#000" />
<polygon points="143.70,755.13 149.10,755.13 146.40,750.27" fill="#000" />
<polygon points="146.70,765.13 152.10,765.13 149.40,760.27" fill="#000" />
<polygon points="146.70,774.43 152.10,774.43 149.40,769.57" fill="#000" />
<polygon points="189.60,731.63 195.00,731.63 192.30,726.77" fill="#000" />
<polygon points="187.40,744.03 192.80,744.03 190.10,739.17" fill="#000" />
<polygon points="192.40,748.33 197.80,748.33 195.10,743.47" fill="#000" />
<polygon points="192.40,750.83 197.80,750.83 195.10,745.97" fill="#000" />
<polygon points="186.80,753.93 192.20,753.93 189.50,749.07" fill="#000" />
<text x="41.00" y="729.80" font-size="8.0" fill="#1a1a1a">p= 0.08</text>
<line x1="48.40" y1="731.00" x2="62.90" y2="731.00" stroke="#000" stroke-width="1.2" />
<polygon points="95.60,721.30 96.25,722.96 98.03,723.06 96.65,724.19 97.10,725.91 95.60,724.95 94.10,725.91 94.55,724.19 93.17,723.06 94.95,722.96" fill="#111" />
<line x1="89.00" y1="731.00" x2="103.50" y2="731.00" stroke="#000" stroke-width="1.2" />
<circle cx="42.10" cy="683.30" r="2.80" fill="#000" />
<text x="49.60" y="686.50" font-size="10.2" font-style="italic" fill="#111"><tspan>Cul3</tspan><tspan font-size="5.80" dy="-3.80">+/+</tspan><tspan dy="3.80">​</tspan></text>
<polygon points="38.90,698.78 45.30,698.78 42.10,693.02" fill="#000" />
<text x="49.60" y="699.30" font-size="10.2" font-style="italic" fill="#111"><tspan>Cul3</tspan><tspan font-size="5.80" dy="-3.80">+/-</tspan><tspan dy="3.80">​</tspan></text>
<text x="56.20" y="808.90" font-size="13.3" text-anchor="middle" fill="#111">Cul3</text>
<text x="98.40" y="808.90" font-size="13.3" text-anchor="middle" fill="#111">Pls3</text>
<text x="140.60" y="808.90" font-size="13.3" text-anchor="middle" fill="#111">Pls1</text>
<text x="182.60" y="808.90" font-size="13.3" text-anchor="middle" fill="#111">INA</text>
<text x="0.00" y="0.00" font-size="9.3" text-anchor="middle" fill="#111" transform="translate(12.7,746.3) rotate(-90)">Norm. mRNA level</text>
</svg></body></html>
